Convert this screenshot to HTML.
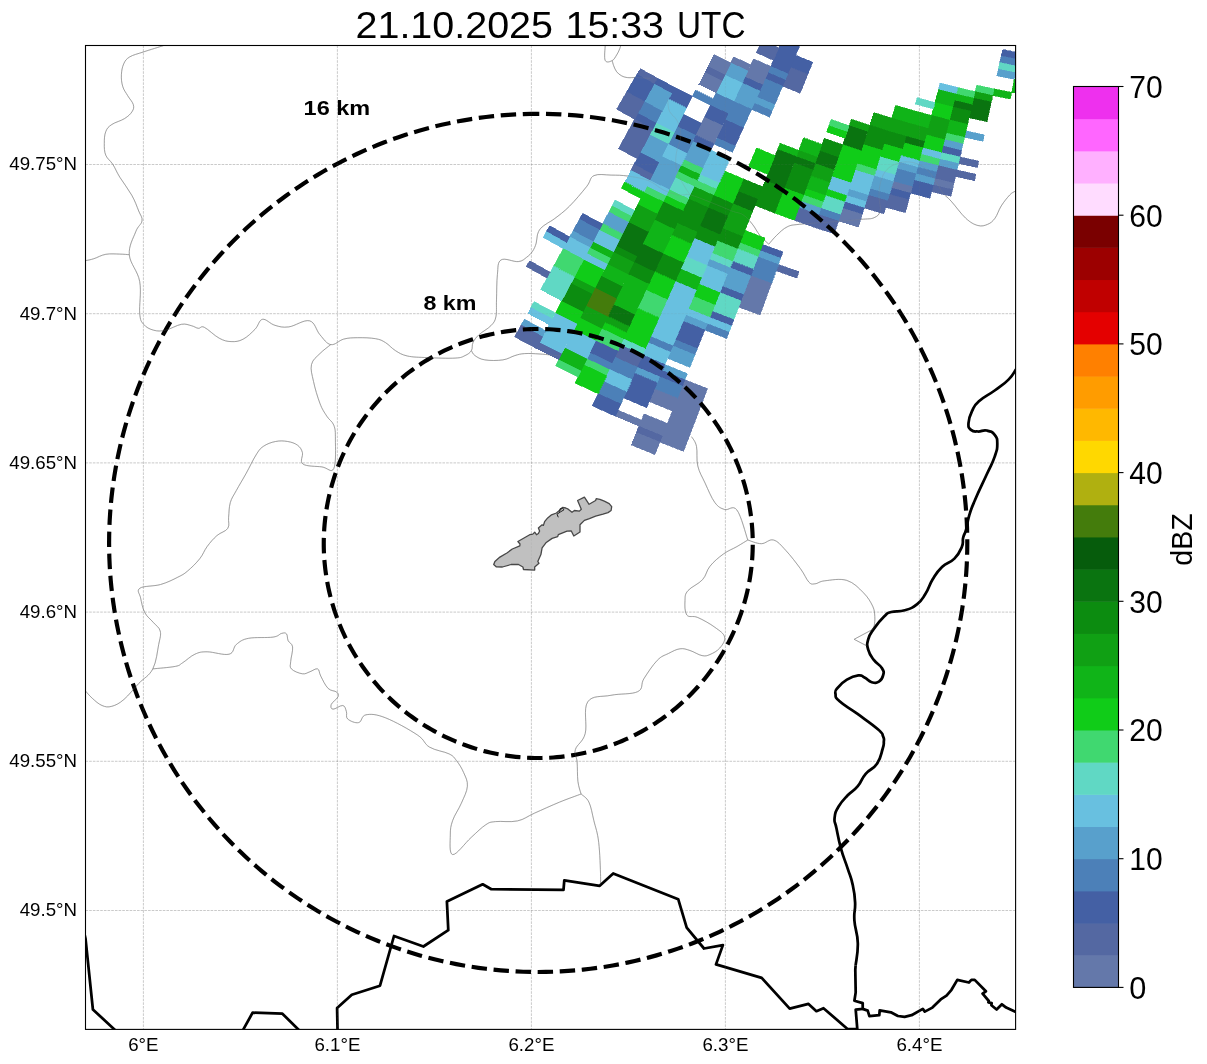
<!DOCTYPE html><html><head><meta charset="utf-8"><title>radar</title><style>
html,body{margin:0;padding:0;background:#fff}body{width:1207px;height:1064px;overflow:hidden;position:relative;font-family:"Liberation Sans",sans-serif}
svg{position:absolute;left:0;top:0;will-change:transform}text{font-family:"Liberation Sans",sans-serif;fill:#000}
</style></head><body>
<svg width="1207" height="1064" viewBox="0 0 1207 1064">
<defs><clipPath id="ax"><rect x="85.5" y="45.5" width="930.1" height="983.9000000000001"/></clipPath></defs>
<g clip-path="url(#ax)">
<g fill="none" stroke="#858585" stroke-opacity="1.0" stroke-width="0.7" stroke-linejoin="round">
<path d="M163.5,45.6 C159.9,46.8 149.8,49.8 143.6,51.9 C137.4,54.0 133.3,54.7 129.7,56.9 C126.1,59.1 125.2,60.6 123.7,63.9 C122.2,67.2 121.6,70.6 121.4,74.8 C121.2,79.0 121.6,82.9 122.8,86.7 C124.0,90.5 125.8,92.4 127.7,95.7 C129.6,99.0 132.5,101.7 133.3,104.6 C134.1,107.5 133.7,109.1 132.1,111.6 C130.5,114.1 128.4,116.1 124.7,118.5 C121.0,120.9 115.3,122.1 111.8,124.5 C108.3,126.9 107.2,128.0 105.8,131.5 C104.4,135.0 104.3,139.0 104.3,143.4 C104.3,147.8 104.2,151.5 105.8,155.3 C107.4,159.1 110.2,160.3 112.8,164.3 C115.4,168.3 116.3,171.6 119.8,177.2 C123.3,182.8 128.2,188.9 131.7,195.1 C135.2,201.3 136.8,206.3 138.7,211.0 C140.6,215.7 142.6,217.1 142.0,220.9 C141.4,224.7 138.0,225.6 135.7,231.8 C133.4,238.0 128.6,245.6 129.3,254.7 C130.0,263.8 137.8,270.8 139.7,281.5 C141.6,292.2 139.0,305.5 139.7,313.3 C140.4,321.1 141.1,321.2 143.6,324.3 C146.1,327.4 149.6,329.1 153.6,330.2 C157.6,331.3 160.4,331.3 165.5,330.2 C170.6,329.1 176.7,325.1 181.4,324.3 C186.1,323.5 188.3,325.0 191.4,325.7 C194.5,326.4 195.9,328.0 198.3,328.3 C200.7,328.6 200.5,325.5 204.3,327.3 C208.1,329.1 214.3,335.6 219.2,338.2 C224.1,340.8 226.7,341.4 231.1,341.6 C235.5,341.8 238.7,341.5 243.1,339.2 C247.5,336.9 251.4,332.9 255.0,329.3 C258.6,325.7 258.9,320.0 262.5,319.3 C266.1,318.6 270.1,323.9 274.9,325.3 C279.7,326.7 282.5,327.7 288.8,326.9 C295.1,326.1 303.8,319.4 309.5,320.8 C315.2,322.2 316.0,330.3 319.9,334.7 C323.8,339.1 326.4,343.8 330.8,344.6 C335.2,345.4 338.8,340.4 343.7,339.1 C348.6,337.8 351.9,337.8 357.7,337.7 C363.5,337.6 370.5,337.8 375.6,338.7 C380.7,339.6 381.9,340.4 385.5,342.6 C389.1,344.8 391.4,348.1 395.4,350.6 C399.4,353.1 401.6,354.7 407.4,356.0 C413.2,357.3 418.6,357.2 427.3,357.6 C436.0,358.0 448.2,358.5 455.1,358.1 C462.0,357.7 462.0,357.0 465.0,355.6 C468.0,354.2 469.9,353.0 471.4,350.6 C472.9,348.2 471.6,345.5 473.0,342.6 C474.4,339.7 475.7,337.8 479.0,334.7 C482.3,331.6 487.8,329.0 490.9,325.7 C494.0,322.4 494.9,321.5 495.9,316.8 C496.9,312.1 496.2,307.6 496.5,299.9 C496.8,292.2 496.6,281.9 497.4,274.6 C498.2,267.3 497.3,262.3 501.1,259.9 C504.9,257.5 513.5,262.1 518.2,261.6 C522.9,261.1 524.0,259.2 526.6,257.3 C529.2,255.4 530.6,254.1 532.4,251.5 C534.2,248.9 535.3,246.2 536.2,243.2 C537.1,240.2 536.6,237.6 537.4,234.9 C538.2,232.2 538.9,230.4 540.7,228.3 C542.5,226.2 544.7,225.1 547.3,223.3 C549.9,221.5 550.7,221.6 554.8,218.5 C558.9,215.4 563.7,212.0 569.5,206.2 C575.3,200.4 582.1,192.2 586.6,186.6 C591.1,181.0 589.5,177.7 594.0,175.6 C598.5,173.5 604.8,175.0 611.1,175.1 C617.4,175.2 621.3,175.1 628.2,176.1 C635.1,177.1 642.4,178.2 648.9,180.8 C655.4,183.4 658.4,187.6 663.9,190.2 C669.4,192.8 674.1,194.0 678.9,194.9 C683.7,195.8 684.3,193.5 690.2,194.9 C696.1,196.3 703.3,199.5 710.9,202.4 C718.5,205.3 725.7,208.6 731.6,210.9 C737.5,213.2 739.1,212.3 742.9,214.7 C746.7,217.1 749.2,220.3 752.3,224.1 C755.4,227.9 756.8,231.6 759.8,235.3 C762.8,239.0 767.1,242.6 768.8,244.2"/>
<path d="M768.8,244.2 C770.2,242.6 773.3,238.5 776.7,235.3 C780.1,232.1 783.1,228.8 787.3,226.8 C791.5,224.8 791.7,225.2 799.5,224.3 C807.3,223.4 818.8,222.9 830.0,222.0 C841.2,221.1 852.5,220.2 860.6,219.4 C868.7,218.6 870.5,219.3 874.1,217.7 C877.7,216.1 879.3,214.7 880.2,210.9 C881.1,207.1 879.0,201.9 879.0,197.0 C879.0,192.1 879.1,188.6 880.2,184.0 C881.3,179.4 882.4,175.4 885.1,171.8 C887.8,168.2 890.3,166.2 894.9,164.4 C899.5,162.6 904.5,161.3 910.0,162.0 C915.5,162.7 920.4,164.7 925.0,168.0 C929.6,171.3 931.8,175.5 935.0,180.0 C938.2,184.5 939.5,188.6 942.5,192.5 C945.5,196.4 946.8,196.4 951.1,201.1 C955.4,205.8 960.8,213.7 965.7,218.2 C970.6,222.7 973.9,224.4 977.9,225.5 C981.9,226.6 984.6,225.6 987.7,224.3 C990.8,223.0 992.5,221.6 995.0,218.2 C997.5,214.8 998.5,210.3 1001.2,206.0 C1003.9,201.7 1007.2,197.7 1009.7,195.0 C1012.2,192.3 1013.2,192.4 1015.1,191.3 C1017.0,190.2 1019.1,189.4 1020.0,189.0"/>
<path d="M129.3,254.7 C127.6,254.6 124.1,254.2 119.8,254.1 C115.5,254.0 110.5,253.5 105.8,254.3 C101.1,255.1 97.6,257.5 93.9,258.7 C90.2,259.9 87.1,260.3 85.6,260.6"/>
<path d="M330.8,344.6 C328.8,346.2 323.4,350.0 319.9,353.6 C316.4,357.2 312.7,359.4 311.5,364.5 C310.3,369.6 312.0,374.3 313.5,381.4 C315.0,388.5 317.5,396.9 319.9,403.3 C322.3,409.7 324.3,412.2 326.8,416.2 C329.3,420.2 332.2,421.0 333.8,425.2 C335.4,429.4 335.4,431.2 335.4,439.1 C335.4,447.0 336.3,463.4 333.8,468.5 C331.3,473.6 327.6,467.7 321.9,466.9 C316.2,466.1 306.5,466.6 302.9,464.0 C299.3,461.4 303.4,455.9 302.4,452.5 C301.4,449.1 300.2,447.2 297.5,445.2 C294.8,443.2 291.7,442.2 287.7,441.5 C283.7,440.8 280.0,440.6 275.5,441.5 C271.0,442.4 266.9,443.9 263.3,446.4 C259.7,448.9 259.1,450.1 256.0,455.0 C252.9,459.9 249.8,466.8 246.2,473.3 C242.6,479.8 239.3,485.0 236.4,490.4 C233.5,495.8 231.7,497.7 230.3,502.6 C228.9,507.5 229.1,512.6 228.6,517.3 C228.1,522.0 229.9,524.9 227.8,528.3 C225.7,531.7 220.7,532.2 216.9,535.6 C213.1,539.0 210.3,542.3 207.1,546.6 C203.9,550.9 203.3,554.3 199.7,558.8 C196.1,563.3 191.5,567.7 187.5,571.1 C183.5,574.5 182.7,574.7 177.8,577.2 C172.9,579.7 167.5,582.5 160.6,584.5 C153.7,586.5 143.6,585.7 139.9,588.2 C136.2,590.7 139.7,593.4 140.6,597.9 C141.5,602.4 142.5,608.1 144.8,612.6 C147.1,617.1 150.5,619.0 153.3,622.4 C156.1,625.8 159.2,627.0 160.2,631.0 C161.2,635.0 160.1,637.5 158.7,644.4 C157.3,651.3 156.5,661.7 152.8,668.9 C149.1,676.1 144.0,677.9 138.7,683.5 C133.4,689.1 128.9,695.2 124.0,699.4 C119.1,703.6 115.8,705.2 111.8,706.3 C107.8,707.4 105.6,707.0 102.0,705.5 C98.4,704.0 95.2,700.9 92.2,698.2 C89.2,695.5 86.6,692.2 85.4,690.9"/>
<path d="M471.4,350.6 C472.1,351.5 472.5,353.9 475.0,355.6 C477.5,357.3 479.8,359.1 484.9,359.9 C490.0,360.7 497.3,360.7 502.8,359.9 C508.3,359.1 510.8,356.8 514.8,355.6 C518.8,354.4 520.1,353.9 524.7,353.6 C529.3,353.3 533.5,353.6 540.0,354.0 C546.5,354.4 556.3,355.6 560.0,356.0"/>
<path d="M605.2,45.5 C605.2,48.2 603.9,57.6 605.2,60.4 C606.5,63.2 610.1,61.6 612.2,60.6 C614.3,59.6 615.4,56.8 616.7,54.9 C618.0,53.0 618.4,51.7 619.2,50.0 C620.0,48.3 620.5,46.3 620.8,45.5"/>
<path d="M612.2,60.6 C612.5,61.6 612.9,63.7 613.7,65.8 C614.5,67.9 615.3,70.0 616.7,71.8 C618.1,73.6 619.6,74.7 621.6,75.8 C623.6,76.9 625.3,77.3 627.6,77.6 C629.9,77.9 629.9,77.5 634.0,77.6 C638.1,77.7 647.1,78.2 650.0,78.3"/>
<path d="M667.7,100.0 C668.0,102.1 667.8,107.5 669.5,111.3 C671.2,115.1 675.0,116.2 677.1,120.7 C679.2,125.2 681.0,129.5 680.8,135.7 C680.6,141.9 676.8,148.0 676.1,154.5 C675.4,161.0 675.5,165.5 677.1,171.4 C678.7,177.3 682.2,182.2 684.6,186.5 C687.0,190.8 689.2,193.4 690.2,194.9"/>
<path d="M152.8,668.9 C156.9,668.4 169.8,667.5 175.3,666.4 C180.8,665.3 179.0,665.0 182.6,662.8 C186.2,660.6 190.4,656.2 194.9,654.2 C199.4,652.2 200.8,651.8 207.1,651.8 C213.4,651.8 223.7,655.6 229.1,654.2 C234.5,652.8 232.8,647.3 236.4,644.4 C240.0,641.5 241.9,639.6 248.6,638.3 C255.3,637.0 267.1,638.0 273.1,637.1 C279.2,636.2 279.1,634.0 281.6,633.4 C284.1,632.8 285.3,632.5 286.5,633.9 C287.7,635.3 287.1,638.4 288.2,640.8 C289.3,643.2 292.1,643.1 292.6,646.9 C293.1,650.7 290.9,657.5 290.7,661.5 C290.5,665.5 289.3,666.6 291.4,668.9 C293.5,671.2 299.0,673.3 302.4,673.8 C305.8,674.3 307.0,672.7 309.8,671.8 C312.6,670.9 315.6,668.1 317.6,668.9 C319.6,669.7 318.9,672.6 320.8,676.2 C322.7,679.8 325.2,685.5 328.1,688.4 C331.0,691.3 334.9,690.5 336.7,692.1 C338.5,693.7 338.9,694.8 337.9,697.0 C336.9,699.2 332.2,702.1 331.3,704.3 C330.4,706.5 330.9,709.0 333.0,709.2 C335.1,709.4 340.3,705.1 342.8,705.5 C345.3,705.9 345.5,709.1 346.4,711.6 C347.3,714.1 345.4,717.0 347.7,719.0 C350.0,721.0 355.3,723.4 358.7,722.6 C362.1,721.8 361.1,715.7 366.0,714.8 C370.9,713.9 376.1,714.1 385.5,717.8 C394.9,721.5 409.2,729.5 417.3,734.9 C425.4,740.3 423.7,743.6 429.5,747.1 C435.3,750.6 444.2,751.4 449.1,753.9 C454.0,756.4 453.7,757.1 456.4,760.5 C459.1,763.9 461.7,768.0 463.7,772.7 C465.7,777.4 467.8,780.6 467.4,786.2 C467.0,791.8 464.0,797.0 461.3,803.3 C458.6,809.6 454.7,814.6 452.7,820.4 C450.7,826.2 450.3,828.7 450.3,835.0 C450.3,841.3 448.9,854.1 452.7,854.6 C456.5,855.1 465.1,843.0 471.1,837.5 C477.2,832.0 481.2,827.7 485.7,824.8 C490.2,821.9 489.7,822.3 495.5,821.6 C501.3,820.9 510.3,822.5 517.5,820.9 C524.7,819.3 526.9,816.5 534.6,813.1 C542.3,809.7 551.1,805.6 559.6,802.1 C568.1,798.6 577.2,795.5 581.1,794.0"/>
<path d="M581.1,794.0 C580.5,791.7 578.6,787.2 577.9,781.3 C577.2,775.4 577.6,767.5 577.1,761.7 C576.6,755.9 573.9,754.7 575.4,749.5 C576.9,744.3 582.9,742.3 585.2,733.6 C587.5,724.9 583.0,708.9 587.7,701.9 C592.4,694.9 601.7,697.2 610.9,695.3 C620.1,693.4 631.8,694.6 637.8,691.6 C643.8,688.6 640.3,684.4 643.9,678.7 C647.5,673.0 652.8,664.9 657.3,660.3 C661.8,655.7 664.2,655.6 668.4,653.5 C672.6,651.4 676.0,649.3 680.0,648.8 C684.0,648.2 686.0,649.3 690.0,650.5 C694.0,651.7 698.3,654.9 702.0,655.6 C705.7,656.3 706.7,655.9 710.0,654.5 C713.3,653.1 717.1,651.2 719.8,648.0 C722.5,644.8 725.5,640.8 724.6,637.0 C723.7,633.2 719.8,630.9 714.9,627.3 C710.0,623.7 703.0,619.8 697.8,617.5 C692.6,615.2 689.1,618.1 686.8,615.0 C684.5,611.9 684.8,604.9 685.0,600.4 C685.2,595.9 684.8,594.4 688.0,590.6 C691.2,586.8 698.6,584.1 702.6,579.6 C706.6,575.1 706.2,570.9 710.0,566.2 C713.8,561.5 718.5,557.6 723.4,554.0 C728.3,550.4 732.4,549.2 736.9,546.6 C741.4,544.0 745.8,541.2 747.8,540.0"/>
<path d="M581.1,794.0 C582.5,795.5 586.6,797.3 588.9,802.1 C591.2,806.9 592.0,813.0 593.8,820.4 C595.6,827.8 597.5,832.1 598.7,842.4 C599.9,852.7 600.4,868.8 600.6,876.6 C600.8,884.4 600.1,883.5 600.0,885.0"/>
<path d="M691.6,436.7 C692.5,438.5 695.4,441.0 696.5,446.4 C697.6,451.8 696.2,459.3 697.8,466.0 C699.4,472.7 702.0,476.4 705.1,483.1 C708.2,489.8 711.3,497.8 714.9,502.6 C718.5,507.4 720.6,508.1 724.6,509.5 C728.6,510.9 732.6,504.4 736.9,510.0 C741.2,515.6 745.8,534.5 747.8,540.0"/>
<path d="M747.8,540.0 C750.3,540.7 756.6,543.7 761.3,543.7 C766.0,543.7 769.0,538.8 773.5,540.0 C778.0,541.2 780.8,545.1 785.7,550.3 C790.6,555.5 796.1,562.8 800.4,568.6 C804.7,574.4 806.2,579.3 808.9,582.1 C811.6,584.9 812.2,584.0 815.1,583.8 C818.0,583.6 819.0,581.4 824.8,580.8 C830.6,580.2 839.7,578.2 846.8,580.4 C853.9,582.6 858.7,588.0 863.4,592.7 C868.1,597.4 870.6,601.8 872.7,606.2 C874.8,610.6 874.5,612.9 874.8,616.5 C875.1,620.1 874.6,623.4 874.2,625.8 C873.8,628.2 872.8,628.8 872.5,629.5"/>
<polyline points="872.5,629.5 854.1,639.3 867.0,646.0"/>
</g>
<g stroke="#808080" stroke-opacity="0.5" stroke-width="0.69" stroke-dasharray="2.57 1.11" fill="none">
<line x1="143.4" y1="45.5" x2="143.4" y2="1029.4"/>
<line x1="337.3999999999993" y1="45.5" x2="337.3999999999993" y2="1029.4"/>
<line x1="531.4000000000003" y1="45.5" x2="531.4000000000003" y2="1029.4"/>
<line x1="725.3999999999996" y1="45.5" x2="725.3999999999996" y2="1029.4"/>
<line x1="919.4000000000007" y1="45.5" x2="919.4000000000007" y2="1029.4"/>
<line x1="85.5" y1="910.5" x2="1015.6" y2="910.5"/>
<line x1="85.5" y1="761.3" x2="1015.6" y2="761.3"/>
<line x1="85.5" y1="612.1" x2="1015.6" y2="612.1"/>
<line x1="85.5" y1="462.9" x2="1015.6" y2="462.9"/>
<line x1="85.5" y1="313.7" x2="1015.6" y2="313.7"/>
<line x1="85.5" y1="164.5" x2="1015.6" y2="164.5"/>
</g>
<g shape-rendering="crispEdges"><polygon points="1031.6,82.4 1014.2,79.3 1011.7,92.4 1029.3,95.6" fill="#10b418" stroke="#10b418" stroke-width="0.6"/>
<polygon points="1019.3,52.9 1002.5,49.5 1001.1,56.1 1018.1,59.5" fill="#4460a4" stroke="#4460a4" stroke-width="0.6"/>
<polygon points="1018.1,59.5 1001.1,56.1 999.7,62.6 1016.8,66.1" fill="#4c80b8" stroke="#4c80b8" stroke-width="0.6"/>
<polygon points="1016.8,66.1 999.7,62.6 998.3,69.2 1015.5,72.7" fill="#60d8c4" stroke="#60d8c4" stroke-width="0.6"/>
<polygon points="1015.5,72.7 998.3,69.2 996.9,75.8 1014.2,79.3" fill="#58a0cc" stroke="#58a0cc" stroke-width="0.6"/>
<polygon points="1011.7,92.4 994.1,88.9 992.7,95.5 1010.4,99.0" fill="#10b418" stroke="#10b418" stroke-width="0.6"/>
<polygon points="994.1,88.9 976.6,85.1 975.1,91.6 992.7,95.5" fill="#40d870" stroke="#40d870" stroke-width="0.6"/>
<polygon points="992.7,95.5 975.1,91.6 973.6,98.2 991.3,102.0" fill="#10a014" stroke="#10a014" stroke-width="0.6"/>
<polygon points="991.3,102.0 973.6,98.2 969.1,117.8 987.1,121.7" fill="#0a7410" stroke="#0a7410" stroke-width="0.6"/>
<polygon points="984.3,134.9 966.0,130.9 964.5,137.4 982.9,141.4" fill="#58a0cc" stroke="#58a0cc" stroke-width="0.6"/>
<polygon points="978.8,161.1 960.0,157.0 958.5,163.6 977.4,167.7" fill="#5468a2" stroke="#5468a2" stroke-width="0.6"/>
<polygon points="976.0,174.2 957.0,170.1 955.5,176.6 974.6,180.8" fill="#5468a2" stroke="#5468a2" stroke-width="0.6"/>
<polygon points="975.1,91.6 957.6,87.5 955.9,94.0 973.6,98.2" fill="#40d870" stroke="#40d870" stroke-width="0.6"/>
<polygon points="973.6,98.2 955.9,94.0 954.3,100.5 972.1,104.7" fill="#10b418" stroke="#10b418" stroke-width="0.6"/>
<polygon points="972.1,104.7 954.3,100.5 952.7,107.0 970.6,111.2" fill="#0a7410" stroke="#0a7410" stroke-width="0.6"/>
<polygon points="970.6,111.2 952.7,107.0 949.4,120.0 967.6,124.3" fill="#0c8c10" stroke="#0c8c10" stroke-width="0.6"/>
<polygon points="967.6,124.3 949.4,120.0 946.2,133.1 964.5,137.4" fill="#10b418" stroke="#10b418" stroke-width="0.6"/>
<polygon points="964.5,137.4 946.2,133.1 944.6,139.6 963.0,143.9" fill="#40d870" stroke="#40d870" stroke-width="0.6"/>
<polygon points="963.0,143.9 944.6,139.6 943.0,146.1 961.5,150.5" fill="#58a0cc" stroke="#58a0cc" stroke-width="0.6"/>
<polygon points="961.5,150.5 943.0,146.1 941.3,152.6 960.0,157.0" fill="#4460a4" stroke="#4460a4" stroke-width="0.6"/>
<polygon points="960.0,157.0 941.3,152.6 939.7,159.1 958.5,163.6" fill="#60d8c4" stroke="#60d8c4" stroke-width="0.6"/>
<polygon points="958.5,163.6 939.7,159.1 938.1,165.6 957.0,170.1" fill="#58a0cc" stroke="#58a0cc" stroke-width="0.6"/>
<polygon points="957.0,170.1 938.1,165.6 934.8,178.6 954.0,183.2" fill="#5468a2" stroke="#5468a2" stroke-width="0.6"/>
<polygon points="954.0,183.2 934.8,178.6 933.2,185.2 952.5,189.7" fill="#6478aa" stroke="#6478aa" stroke-width="0.6"/>
<polygon points="952.5,189.7 933.2,185.2 931.6,191.7 951.0,196.3" fill="#5468a2" stroke="#5468a2" stroke-width="0.6"/>
<polygon points="957.6,87.5 940.1,83.0 938.3,89.5 955.9,94.0" fill="#68c0e0" stroke="#68c0e0" stroke-width="0.6"/>
<polygon points="955.9,94.0 938.3,89.5 934.9,102.5 952.7,107.0" fill="#10b418" stroke="#10b418" stroke-width="0.6"/>
<polygon points="952.7,107.0 934.9,102.5 931.4,115.4 949.4,120.0" fill="#10cc18" stroke="#10cc18" stroke-width="0.6"/>
<polygon points="949.4,120.0 931.4,115.4 926.2,134.9 944.6,139.6" fill="#10a014" stroke="#10a014" stroke-width="0.6"/>
<polygon points="944.6,139.6 926.2,134.9 922.7,147.8 941.3,152.6" fill="#10cc18" stroke="#10cc18" stroke-width="0.6"/>
<polygon points="941.3,152.6 922.7,147.8 921.0,154.3 939.7,159.1" fill="#68c0e0" stroke="#68c0e0" stroke-width="0.6"/>
<polygon points="939.7,159.1 921.0,154.3 919.3,160.8 938.1,165.6" fill="#40d870" stroke="#40d870" stroke-width="0.6"/>
<polygon points="938.1,165.6 919.3,160.8 917.5,167.3 936.5,172.1" fill="#58a0cc" stroke="#58a0cc" stroke-width="0.6"/>
<polygon points="936.5,172.1 917.5,167.3 915.8,173.8 934.8,178.6" fill="#4c80b8" stroke="#4c80b8" stroke-width="0.6"/>
<polygon points="934.8,178.6 915.8,173.8 914.1,180.3 933.2,185.2" fill="#58a0cc" stroke="#58a0cc" stroke-width="0.6"/>
<polygon points="933.2,185.2 914.1,180.3 910.6,193.2 930.0,198.2" fill="#4460a4" stroke="#4460a4" stroke-width="0.6"/>
<polygon points="934.9,102.5 917.1,97.6 915.3,104.1 933.1,108.9" fill="#60d8c4" stroke="#60d8c4" stroke-width="0.6"/>
<polygon points="931.4,115.4 913.4,110.5 909.8,123.4 927.9,128.4" fill="#10b418" stroke="#10b418" stroke-width="0.6"/>
<polygon points="927.9,128.4 909.8,123.4 906.1,136.3 924.5,141.4" fill="#10a014" stroke="#10a014" stroke-width="0.6"/>
<polygon points="924.5,141.4 906.1,136.3 904.2,142.8 922.7,147.8" fill="#0a7410" stroke="#0a7410" stroke-width="0.6"/>
<polygon points="922.7,147.8 904.2,142.8 900.5,155.7 919.3,160.8" fill="#10cc18" stroke="#10cc18" stroke-width="0.6"/>
<polygon points="919.3,160.8 900.5,155.7 898.7,162.1 917.5,167.3" fill="#68c0e0" stroke="#68c0e0" stroke-width="0.6"/>
<polygon points="917.5,167.3 898.7,162.1 896.8,168.6 915.8,173.8" fill="#58a0cc" stroke="#58a0cc" stroke-width="0.6"/>
<polygon points="915.8,173.8 896.8,168.6 893.1,181.5 912.3,186.7" fill="#4c80b8" stroke="#4c80b8" stroke-width="0.6"/>
<polygon points="912.3,186.7 893.1,181.5 891.3,188.0 910.6,193.2" fill="#6478aa" stroke="#6478aa" stroke-width="0.6"/>
<polygon points="910.6,193.2 891.3,188.0 889.4,194.4 908.9,199.7" fill="#4460a4" stroke="#4460a4" stroke-width="0.6"/>
<polygon points="908.9,199.7 889.4,194.4 885.7,207.3 905.4,212.7" fill="#5468a2" stroke="#5468a2" stroke-width="0.6"/>
<polygon points="913.4,110.5 895.6,105.3 891.7,118.1 909.8,123.4" fill="#10b418" stroke="#10b418" stroke-width="0.6"/>
<polygon points="909.8,123.4 891.7,118.1 887.7,131.0 906.1,136.3" fill="#10a014" stroke="#10a014" stroke-width="0.6"/>
<polygon points="906.1,136.3 887.7,131.0 883.8,143.8 902.4,149.2" fill="#0c8c10" stroke="#0c8c10" stroke-width="0.6"/>
<polygon points="902.4,149.2 883.8,143.8 879.9,156.7 898.7,162.1" fill="#10cc18" stroke="#10cc18" stroke-width="0.6"/>
<polygon points="898.7,162.1 879.9,156.7 876.0,169.5 895.0,175.0" fill="#60d8c4" stroke="#60d8c4" stroke-width="0.6"/>
<polygon points="895.0,175.0 876.0,169.5 874.0,175.9 893.1,181.5" fill="#68c0e0" stroke="#68c0e0" stroke-width="0.6"/>
<polygon points="893.1,181.5 874.0,175.9 870.1,188.8 889.4,194.4" fill="#58a0cc" stroke="#58a0cc" stroke-width="0.6"/>
<polygon points="889.4,194.4 870.1,188.8 868.1,195.2 887.6,200.9" fill="#4c80b8" stroke="#4c80b8" stroke-width="0.6"/>
<polygon points="887.6,200.9 868.1,195.2 864.2,208.0 883.9,213.8" fill="#5468a2" stroke="#5468a2" stroke-width="0.6"/>
<polygon points="891.7,118.1 873.7,112.5 869.5,125.3 887.7,131.0" fill="#10a014" stroke="#10a014" stroke-width="0.6"/>
<polygon points="887.7,131.0 869.5,125.3 863.3,144.5 881.9,150.2" fill="#0c8c10" stroke="#0c8c10" stroke-width="0.6"/>
<polygon points="881.9,150.2 863.3,144.5 857.1,163.6 876.0,169.5" fill="#10cc18" stroke="#10cc18" stroke-width="0.6"/>
<polygon points="876.0,169.5 857.1,163.6 855.0,170.0 874.0,175.9" fill="#40d870" stroke="#40d870" stroke-width="0.6"/>
<polygon points="874.0,175.9 855.0,170.0 848.8,189.2 868.1,195.2" fill="#68c0e0" stroke="#68c0e0" stroke-width="0.6"/>
<polygon points="868.1,195.2 848.8,189.2 846.7,195.6 866.2,201.6" fill="#58a0cc" stroke="#58a0cc" stroke-width="0.6"/>
<polygon points="866.2,201.6 846.7,195.6 844.7,201.9 864.2,208.0" fill="#68c0e0" stroke="#68c0e0" stroke-width="0.6"/>
<polygon points="864.2,208.0 844.7,201.9 842.6,208.3 862.3,214.4" fill="#4460a4" stroke="#4460a4" stroke-width="0.6"/>
<polygon points="862.3,214.4 842.6,208.3 838.5,221.1 858.4,227.3" fill="#6478aa" stroke="#6478aa" stroke-width="0.6"/>
<polygon points="869.5,125.3 851.4,119.3 849.2,125.7 867.4,131.7" fill="#10a014" stroke="#10a014" stroke-width="0.6"/>
<polygon points="867.4,131.7 849.2,125.7 842.7,144.7 861.2,150.9" fill="#0a7410" stroke="#0a7410" stroke-width="0.6"/>
<polygon points="861.2,150.9 842.7,144.7 831.8,176.5 850.9,182.8" fill="#10cc18" stroke="#10cc18" stroke-width="0.6"/>
<polygon points="850.9,182.8 831.8,176.5 827.4,189.2 846.7,195.6" fill="#68c0e0" stroke="#68c0e0" stroke-width="0.6"/>
<polygon points="846.7,195.6 827.4,189.2 825.2,195.5 844.7,201.9" fill="#10cc18" stroke="#10cc18" stroke-width="0.6"/>
<polygon points="844.7,201.9 825.2,195.5 820.9,208.2 840.5,214.7" fill="#60d8c4" stroke="#60d8c4" stroke-width="0.6"/>
<polygon points="840.5,214.7 820.9,208.2 818.7,214.6 838.5,221.1" fill="#4c80b8" stroke="#4c80b8" stroke-width="0.6"/>
<polygon points="838.5,221.1 818.7,214.6 814.3,227.3 834.3,233.9" fill="#5468a2" stroke="#5468a2" stroke-width="0.6"/>
<polygon points="849.2,125.7 831.1,119.4 828.8,125.7 847.0,132.0" fill="#40d870" stroke="#40d870" stroke-width="0.6"/>
<polygon points="847.0,132.0 828.8,125.7 826.5,132.0 844.9,138.4" fill="#10cc18" stroke="#10cc18" stroke-width="0.6"/>
<polygon points="842.7,144.7 824.2,138.3 819.6,150.9 838.3,157.4" fill="#0c8c10" stroke="#0c8c10" stroke-width="0.6"/>
<polygon points="838.3,157.4 819.6,150.9 815.0,163.5 833.9,170.1" fill="#0a7410" stroke="#0a7410" stroke-width="0.6"/>
<polygon points="833.9,170.1 815.0,163.5 810.5,176.2 829.6,182.8" fill="#10a014" stroke="#10a014" stroke-width="0.6"/>
<polygon points="829.6,182.8 810.5,176.2 805.9,188.8 825.2,195.5" fill="#10b418" stroke="#10b418" stroke-width="0.6"/>
<polygon points="825.2,195.5 805.9,188.8 803.6,195.1 823.0,201.9" fill="#10cc18" stroke="#10cc18" stroke-width="0.6"/>
<polygon points="823.0,201.9 803.6,195.1 801.3,201.4 820.9,208.2" fill="#40d870" stroke="#40d870" stroke-width="0.6"/>
<polygon points="820.9,208.2 801.3,201.4 799.0,207.7 818.7,214.6" fill="#58a0cc" stroke="#58a0cc" stroke-width="0.6"/>
<polygon points="818.7,214.6 799.0,207.7 794.4,220.3 814.3,227.3" fill="#5468a2" stroke="#5468a2" stroke-width="0.6"/>
<polygon points="799.1,271.7 778.4,264.5 776.1,270.8 796.9,278.1" fill="#5468a2" stroke="#5468a2" stroke-width="0.6"/>
<polygon points="821.9,144.6 803.5,137.8 798.7,150.4 817.3,157.2" fill="#10b418" stroke="#10b418" stroke-width="0.6"/>
<polygon points="817.3,157.2 798.7,150.4 796.3,156.6 815.0,163.5" fill="#10a014" stroke="#10a014" stroke-width="0.6"/>
<polygon points="815.0,163.5 796.3,156.6 793.9,162.9 812.8,169.9" fill="#0a7410" stroke="#0a7410" stroke-width="0.6"/>
<polygon points="812.8,169.9 793.9,162.9 784.3,188.0 803.6,195.1" fill="#0c8c10" stroke="#0c8c10" stroke-width="0.6"/>
<polygon points="803.6,195.1 784.3,188.0 774.7,213.1 794.4,220.3" fill="#10cc18" stroke="#10cc18" stroke-width="0.6"/>
<polygon points="783.0,251.9 762.7,244.4 760.3,250.7 780.7,258.2" fill="#4460a4" stroke="#4460a4" stroke-width="0.6"/>
<polygon points="780.7,258.2 760.3,250.7 757.9,256.9 778.4,264.5" fill="#58a0cc" stroke="#58a0cc" stroke-width="0.6"/>
<polygon points="778.4,264.5 757.9,256.9 750.7,275.8 771.5,283.4" fill="#4c80b8" stroke="#4c80b8" stroke-width="0.6"/>
<polygon points="771.5,283.4 750.7,275.8 738.7,307.1 760.1,315.0" fill="#6478aa" stroke="#6478aa" stroke-width="0.6"/>
<polygon points="798.7,150.4 780.1,143.2 777.6,149.4 796.3,156.6" fill="#10b418" stroke="#10b418" stroke-width="0.6"/>
<polygon points="796.3,156.6 777.6,149.4 765.1,180.5 784.3,188.0" fill="#0a7410" stroke="#0a7410" stroke-width="0.6"/>
<polygon points="784.3,188.0 765.1,180.5 755.0,205.4 774.7,213.1" fill="#0c8c10" stroke="#0c8c10" stroke-width="0.6"/>
<polygon points="765.1,238.1 745.0,230.3 740.0,242.8 760.3,250.7" fill="#10cc18" stroke="#10cc18" stroke-width="0.6"/>
<polygon points="760.3,250.7 740.0,242.8 737.5,249.0 757.9,256.9" fill="#40d870" stroke="#40d870" stroke-width="0.6"/>
<polygon points="757.9,256.9 737.5,249.0 732.5,261.5 753.1,269.5" fill="#60d8c4" stroke="#60d8c4" stroke-width="0.6"/>
<polygon points="753.1,269.5 732.5,261.5 729.9,267.7 750.7,275.8" fill="#4460a4" stroke="#4460a4" stroke-width="0.6"/>
<polygon points="750.7,275.8 729.9,267.7 722.4,286.4 743.5,294.6" fill="#58a0cc" stroke="#58a0cc" stroke-width="0.6"/>
<polygon points="743.5,294.6 722.4,286.4 719.9,292.6 741.1,300.8" fill="#4460a4" stroke="#4460a4" stroke-width="0.6"/>
<polygon points="741.1,300.8 719.9,292.6 712.4,311.3 733.9,319.7" fill="#60d8c4" stroke="#60d8c4" stroke-width="0.6"/>
<polygon points="733.9,319.7 712.4,311.3 709.9,317.5 731.5,325.9" fill="#4460a4" stroke="#4460a4" stroke-width="0.6"/>
<polygon points="731.5,325.9 709.9,317.5 707.4,323.8 729.1,332.2" fill="#68c0e0" stroke="#68c0e0" stroke-width="0.6"/>
<polygon points="729.1,332.2 707.4,323.8 704.9,330.0 726.7,338.5" fill="#4c80b8" stroke="#4c80b8" stroke-width="0.6"/>
<polygon points="707.6,388.6 684.9,379.8 659.9,442.1 683.6,451.4" fill="#6478aa" stroke="#6478aa" stroke-width="0.6"/>
<polygon points="812.8,62.2 795.8,55.3 790.5,67.6 807.7,74.6" fill="#4460a4" stroke="#4460a4" stroke-width="0.6"/>
<polygon points="807.7,74.6 790.5,67.6 782.7,86.2 800.2,93.3" fill="#5468a2" stroke="#5468a2" stroke-width="0.6"/>
<polygon points="775.1,155.6 756.5,148.0 748.6,166.6 767.6,174.3" fill="#10cc18" stroke="#10cc18" stroke-width="0.6"/>
<polygon points="762.5,186.7 743.4,178.9 738.1,191.3 757.5,199.2" fill="#0c8c10" stroke="#0c8c10" stroke-width="0.6"/>
<polygon points="757.5,199.2 738.1,191.3 732.9,203.7 752.5,211.7" fill="#0a7410" stroke="#0a7410" stroke-width="0.6"/>
<polygon points="752.5,211.7 732.9,203.7 722.4,228.4 742.5,236.6" fill="#10a014" stroke="#10a014" stroke-width="0.6"/>
<polygon points="742.5,236.6 722.4,228.4 717.2,240.8 737.5,249.0" fill="#0c8c10" stroke="#0c8c10" stroke-width="0.6"/>
<polygon points="737.5,249.0 717.2,240.8 712.0,253.1 732.5,261.5" fill="#40d870" stroke="#40d870" stroke-width="0.6"/>
<polygon points="732.5,261.5 712.0,253.1 709.4,259.3 729.9,267.7" fill="#60d8c4" stroke="#60d8c4" stroke-width="0.6"/>
<polygon points="729.9,267.7 709.4,259.3 706.7,265.5 727.4,273.9" fill="#58a0cc" stroke="#58a0cc" stroke-width="0.6"/>
<polygon points="727.4,273.9 706.7,265.5 698.9,284.1 719.9,292.6" fill="#68c0e0" stroke="#68c0e0" stroke-width="0.6"/>
<polygon points="719.9,292.6 698.9,284.1 693.7,296.4 714.9,305.1" fill="#10cc18" stroke="#10cc18" stroke-width="0.6"/>
<polygon points="714.9,305.1 693.7,296.4 688.4,308.8 709.9,317.5" fill="#40d870" stroke="#40d870" stroke-width="0.6"/>
<polygon points="709.9,317.5 688.4,308.8 685.8,315.0 707.4,323.8" fill="#68c0e0" stroke="#68c0e0" stroke-width="0.6"/>
<polygon points="707.4,323.8 685.8,315.0 683.2,321.2 704.9,330.0" fill="#58a0cc" stroke="#58a0cc" stroke-width="0.6"/>
<polygon points="704.9,330.0 683.2,321.2 675.4,339.7 697.4,348.7" fill="#4460a4" stroke="#4460a4" stroke-width="0.6"/>
<polygon points="697.4,348.7 675.4,339.7 672.8,345.9 694.9,354.9" fill="#4c80b8" stroke="#4c80b8" stroke-width="0.6"/>
<polygon points="694.9,354.9 672.8,345.9 667.6,358.3 689.9,367.4" fill="#58a0cc" stroke="#58a0cc" stroke-width="0.6"/>
<polygon points="687.4,373.6 664.9,364.5 662.3,370.6 684.9,379.8" fill="#58a0cc" stroke="#58a0cc" stroke-width="0.6"/>
<polygon points="684.9,379.8 662.3,370.6 659.7,376.8 682.4,386.1" fill="#4460a4" stroke="#4460a4" stroke-width="0.6"/>
<polygon points="682.4,386.1 659.7,376.8 654.5,389.2 677.4,398.5" fill="#4c80b8" stroke="#4c80b8" stroke-width="0.6"/>
<polygon points="677.4,398.5 654.5,389.2 649.3,401.6 672.4,411.0" fill="#6478aa" stroke="#6478aa" stroke-width="0.6"/>
<polygon points="667.4,423.4 644.1,413.9 638.8,426.3 662.4,435.9" fill="#6478aa" stroke="#6478aa" stroke-width="0.6"/>
<polygon points="662.4,435.9 638.8,426.3 636.2,432.5 659.9,442.1" fill="#5468a2" stroke="#5468a2" stroke-width="0.6"/>
<polygon points="659.9,442.1 636.2,432.5 631.0,444.9 654.9,454.6" fill="#6478aa" stroke="#6478aa" stroke-width="0.6"/>
<polygon points="801.0,42.9 784.3,35.7 770.7,66.4 787.9,73.8" fill="#4460a4" stroke="#4460a4" stroke-width="0.6"/>
<polygon points="787.9,73.8 770.7,66.4 768.0,72.6 785.3,80.0" fill="#4c80b8" stroke="#4c80b8" stroke-width="0.6"/>
<polygon points="785.3,80.0 768.0,72.6 765.2,78.7 782.7,86.2" fill="#4460a4" stroke="#4460a4" stroke-width="0.6"/>
<polygon points="782.7,86.2 765.2,78.7 757.0,97.1 774.8,104.7" fill="#4c80b8" stroke="#4c80b8" stroke-width="0.6"/>
<polygon points="774.8,104.7 757.0,97.1 754.3,103.2 772.2,110.9" fill="#58a0cc" stroke="#58a0cc" stroke-width="0.6"/>
<polygon points="772.2,110.9 754.3,103.2 751.6,109.4 769.6,117.1" fill="#4c80b8" stroke="#4c80b8" stroke-width="0.6"/>
<polygon points="743.4,178.9 724.3,170.8 713.4,195.3 732.9,203.7" fill="#10cc18" stroke="#10cc18" stroke-width="0.6"/>
<polygon points="732.9,203.7 713.4,195.3 708.0,207.6 727.7,216.0" fill="#0c8c10" stroke="#0c8c10" stroke-width="0.6"/>
<polygon points="727.7,216.0 708.0,207.6 699.8,226.0 719.8,234.6" fill="#0a7410" stroke="#0a7410" stroke-width="0.6"/>
<polygon points="719.8,234.6 699.8,226.0 694.4,238.3 714.6,246.9" fill="#0c8c10" stroke="#0c8c10" stroke-width="0.6"/>
<polygon points="714.6,246.9 694.4,238.3 686.2,256.7 706.7,265.5" fill="#68c0e0" stroke="#68c0e0" stroke-width="0.6"/>
<polygon points="706.7,265.5 686.2,256.7 680.8,269.0 701.5,277.9" fill="#60d8c4" stroke="#60d8c4" stroke-width="0.6"/>
<polygon points="701.5,277.9 680.8,269.0 675.3,281.3 696.3,290.2" fill="#10b418" stroke="#10b418" stroke-width="0.6"/>
<polygon points="696.3,290.2 675.3,281.3 650.8,336.5 672.8,345.9" fill="#68c0e0" stroke="#68c0e0" stroke-width="0.6"/>
<polygon points="672.8,345.9 650.8,336.5 648.1,342.6 670.2,352.1" fill="#4c80b8" stroke="#4c80b8" stroke-width="0.6"/>
<polygon points="670.2,352.1 648.1,342.6 642.7,354.9 664.9,364.5" fill="#68c0e0" stroke="#68c0e0" stroke-width="0.6"/>
<polygon points="664.9,364.5 642.7,354.9 637.2,367.2 659.7,376.8" fill="#4460a4" stroke="#4460a4" stroke-width="0.6"/>
<polygon points="659.7,376.8 637.2,367.2 634.5,373.3 657.1,383.0" fill="#58a0cc" stroke="#58a0cc" stroke-width="0.6"/>
<polygon points="657.1,383.0 634.5,373.3 623.7,397.9 646.7,407.8" fill="#4460a4" stroke="#4460a4" stroke-width="0.6"/>
<polygon points="641.5,420.1 618.2,410.2 615.5,416.3 638.8,426.3" fill="#6478aa" stroke="#6478aa" stroke-width="0.6"/>
<polygon points="778.9,48.0 762.1,40.5 756.4,52.7 773.4,60.3" fill="#5468a2" stroke="#5468a2" stroke-width="0.6"/>
<polygon points="770.7,66.4 753.6,58.8 745.1,77.0 762.5,84.8" fill="#6478aa" stroke="#6478aa" stroke-width="0.6"/>
<polygon points="762.5,84.8 745.1,77.0 742.3,83.1 759.8,91.0" fill="#4460a4" stroke="#4460a4" stroke-width="0.6"/>
<polygon points="759.8,91.0 742.3,83.1 733.8,101.4 751.6,109.4" fill="#58a0cc" stroke="#58a0cc" stroke-width="0.6"/>
<polygon points="751.6,109.4 733.8,101.4 725.3,119.7 743.4,127.8" fill="#4c80b8" stroke="#4c80b8" stroke-width="0.6"/>
<polygon points="743.4,127.8 725.3,119.7 716.8,137.9 735.2,146.2" fill="#4460a4" stroke="#4460a4" stroke-width="0.6"/>
<polygon points="735.2,146.2 716.8,137.9 713.9,144.0 732.5,152.4" fill="#4c80b8" stroke="#4c80b8" stroke-width="0.6"/>
<polygon points="729.8,158.5 711.1,150.1 699.8,174.5 718.9,183.0" fill="#68c0e0" stroke="#68c0e0" stroke-width="0.6"/>
<polygon points="718.9,183.0 699.8,174.5 696.9,180.6 716.2,189.2" fill="#60d8c4" stroke="#60d8c4" stroke-width="0.6"/>
<polygon points="716.2,189.2 696.9,180.6 694.1,186.6 713.4,195.3" fill="#40d870" stroke="#40d870" stroke-width="0.6"/>
<polygon points="713.4,195.3 694.1,186.6 688.4,198.8 708.0,207.6" fill="#10a014" stroke="#10a014" stroke-width="0.6"/>
<polygon points="708.0,207.6 688.4,198.8 677.1,223.2 697.1,232.1" fill="#0c8c10" stroke="#0c8c10" stroke-width="0.6"/>
<polygon points="697.1,232.1 677.1,223.2 671.5,235.4 691.6,244.4" fill="#10a014" stroke="#10a014" stroke-width="0.6"/>
<polygon points="691.6,244.4 671.5,235.4 663.0,253.6 683.5,262.8" fill="#10cc18" stroke="#10cc18" stroke-width="0.6"/>
<polygon points="683.5,262.8 663.0,253.6 654.5,271.9 675.3,281.3" fill="#0c8c10" stroke="#0c8c10" stroke-width="0.6"/>
<polygon points="675.3,281.3 654.5,271.9 646.0,290.2 667.2,299.7" fill="#10cc18" stroke="#10cc18" stroke-width="0.6"/>
<polygon points="667.2,299.7 646.0,290.2 637.5,308.5 659.0,318.1" fill="#40d870" stroke="#40d870" stroke-width="0.6"/>
<polygon points="659.0,318.1 637.5,308.5 623.4,338.9 645.4,348.8" fill="#10cc18" stroke="#10cc18" stroke-width="0.6"/>
<polygon points="645.4,348.8 623.4,338.9 620.6,345.0 642.7,354.9" fill="#60d8c4" stroke="#60d8c4" stroke-width="0.6"/>
<polygon points="642.7,354.9 620.6,345.0 614.9,357.2 637.2,367.2" fill="#5468a2" stroke="#5468a2" stroke-width="0.6"/>
<polygon points="637.2,367.2 614.9,357.2 609.3,369.4 631.8,379.5" fill="#4c80b8" stroke="#4c80b8" stroke-width="0.6"/>
<polygon points="631.8,379.5 609.3,369.4 603.6,381.6 626.4,391.8" fill="#68c0e0" stroke="#68c0e0" stroke-width="0.6"/>
<polygon points="626.4,391.8 603.6,381.6 598.0,393.7 620.9,404.0" fill="#4c80b8" stroke="#4c80b8" stroke-width="0.6"/>
<polygon points="620.9,404.0 598.0,393.7 592.3,405.9 615.5,416.3" fill="#4460a4" stroke="#4460a4" stroke-width="0.6"/>
<polygon points="750.8,64.8 733.7,56.8 730.8,62.9 747.9,70.9" fill="#6478aa" stroke="#6478aa" stroke-width="0.6"/>
<polygon points="747.9,70.9 730.8,62.9 724.9,75.0 742.3,83.1" fill="#58a0cc" stroke="#58a0cc" stroke-width="0.6"/>
<polygon points="742.3,83.1 724.9,75.0 716.1,93.1 733.8,101.4" fill="#68c0e0" stroke="#68c0e0" stroke-width="0.6"/>
<polygon points="733.8,101.4 716.1,93.1 710.2,105.2 728.1,113.6" fill="#4c80b8" stroke="#4c80b8" stroke-width="0.6"/>
<polygon points="728.1,113.6 710.2,105.2 704.3,117.2 722.4,125.7" fill="#4460a4" stroke="#4460a4" stroke-width="0.6"/>
<polygon points="722.4,125.7 704.3,117.2 695.5,135.4 713.9,144.0" fill="#6478aa" stroke="#6478aa" stroke-width="0.6"/>
<polygon points="713.9,144.0 695.5,135.4 692.6,141.4 711.1,150.1" fill="#4460a4" stroke="#4460a4" stroke-width="0.6"/>
<polygon points="711.1,150.1 692.6,141.4 683.7,159.5 702.6,168.4" fill="#58a0cc" stroke="#58a0cc" stroke-width="0.6"/>
<polygon points="702.6,168.4 683.7,159.5 680.8,165.6 699.8,174.5" fill="#40d870" stroke="#40d870" stroke-width="0.6"/>
<polygon points="699.8,174.5 680.8,165.6 677.9,171.6 696.9,180.6" fill="#10b418" stroke="#10b418" stroke-width="0.6"/>
<polygon points="696.9,180.6 677.9,171.6 674.9,177.6 694.1,186.6" fill="#40d870" stroke="#40d870" stroke-width="0.6"/>
<polygon points="694.1,186.6 674.9,177.6 669.1,189.7 688.4,198.8" fill="#60d8c4" stroke="#60d8c4" stroke-width="0.6"/>
<polygon points="688.4,198.8 669.1,189.7 666.1,195.8 685.6,204.9" fill="#40d870" stroke="#40d870" stroke-width="0.6"/>
<polygon points="685.6,204.9 666.1,195.8 663.2,201.8 682.8,211.0" fill="#10cc18" stroke="#10cc18" stroke-width="0.6"/>
<polygon points="682.8,211.0 663.2,201.8 654.4,219.9 674.3,229.3" fill="#0c8c10" stroke="#0c8c10" stroke-width="0.6"/>
<polygon points="674.3,229.3 654.4,219.9 642.6,244.1 663.0,253.6" fill="#10b418" stroke="#10b418" stroke-width="0.6"/>
<polygon points="663.0,253.6 642.6,244.1 633.8,262.2 654.5,271.9" fill="#0a7410" stroke="#0a7410" stroke-width="0.6"/>
<polygon points="654.5,271.9 633.8,262.2 628.0,274.3 648.8,284.1" fill="#0c8c10" stroke="#0c8c10" stroke-width="0.6"/>
<polygon points="648.8,284.1 628.0,274.3 613.3,304.5 634.7,314.6" fill="#10b418" stroke="#10b418" stroke-width="0.6"/>
<polygon points="634.7,314.6 613.3,304.5 607.5,316.6 629.1,326.7" fill="#0a7410" stroke="#0a7410" stroke-width="0.6"/>
<polygon points="629.1,326.7 607.5,316.6 604.5,322.6 626.2,332.8" fill="#10a014" stroke="#10a014" stroke-width="0.6"/>
<polygon points="626.2,332.8 604.5,322.6 601.6,328.7 623.4,338.9" fill="#10cc18" stroke="#10cc18" stroke-width="0.6"/>
<polygon points="623.4,338.9 601.6,328.7 595.7,340.8 617.8,351.1" fill="#40d870" stroke="#40d870" stroke-width="0.6"/>
<polygon points="617.8,351.1 595.7,340.8 589.9,352.8 612.1,363.3" fill="#4460a4" stroke="#4460a4" stroke-width="0.6"/>
<polygon points="612.1,363.3 589.9,352.8 586.9,358.9 609.3,369.4" fill="#4c80b8" stroke="#4c80b8" stroke-width="0.6"/>
<polygon points="609.3,369.4 586.9,358.9 584.0,364.9 606.5,375.5" fill="#40d870" stroke="#40d870" stroke-width="0.6"/>
<polygon points="606.5,375.5 584.0,364.9 575.2,383.1 598.0,393.7" fill="#10cc18" stroke="#10cc18" stroke-width="0.6"/>
<polygon points="730.8,62.9 713.8,54.5 707.7,66.5 724.9,75.0" fill="#6478aa" stroke="#6478aa" stroke-width="0.6"/>
<polygon points="724.9,75.0 707.7,66.5 704.6,72.5 722.0,81.0" fill="#5468a2" stroke="#5468a2" stroke-width="0.6"/>
<polygon points="722.0,81.0 704.6,72.5 698.5,84.5 716.1,93.1" fill="#6478aa" stroke="#6478aa" stroke-width="0.6"/>
<polygon points="713.1,99.1 695.5,90.4 692.4,96.4 710.2,105.2" fill="#4c80b8" stroke="#4c80b8" stroke-width="0.6"/>
<polygon points="701.4,123.3 683.3,114.4 677.2,126.4 695.5,135.4" fill="#4460a4" stroke="#4460a4" stroke-width="0.6"/>
<polygon points="695.5,135.4 677.2,126.4 668.1,144.3 686.7,153.5" fill="#4c80b8" stroke="#4c80b8" stroke-width="0.6"/>
<polygon points="686.7,153.5 668.1,144.3 662.0,156.3 680.8,165.6" fill="#68c0e0" stroke="#68c0e0" stroke-width="0.6"/>
<polygon points="680.8,165.6 662.0,156.3 649.8,180.3 669.1,189.7" fill="#58a0cc" stroke="#58a0cc" stroke-width="0.6"/>
<polygon points="669.1,189.7 649.8,180.3 646.8,186.3 666.1,195.8" fill="#68c0e0" stroke="#68c0e0" stroke-width="0.6"/>
<polygon points="666.1,195.8 646.8,186.3 643.8,192.3 663.2,201.8" fill="#40d870" stroke="#40d870" stroke-width="0.6"/>
<polygon points="663.2,201.8 643.8,192.3 637.7,204.2 657.3,213.9" fill="#10cc18" stroke="#10cc18" stroke-width="0.6"/>
<polygon points="657.3,213.9 637.7,204.2 628.6,222.2 648.5,232.0" fill="#10a014" stroke="#10a014" stroke-width="0.6"/>
<polygon points="648.5,232.0 628.6,222.2 616.4,246.2 636.8,256.2" fill="#0a7410" stroke="#0a7410" stroke-width="0.6"/>
<polygon points="636.8,256.2 616.4,246.2 613.4,252.2 633.8,262.2" fill="#0c8c10" stroke="#0c8c10" stroke-width="0.6"/>
<polygon points="633.8,262.2 613.4,252.2 607.3,264.1 628.0,274.3" fill="#10a014" stroke="#10a014" stroke-width="0.6"/>
<polygon points="628.0,274.3 607.3,264.1 601.2,276.1 622.1,286.4" fill="#10b418" stroke="#10b418" stroke-width="0.6"/>
<polygon points="622.1,286.4 601.2,276.1 595.1,288.1 616.2,298.5" fill="#0c8c10" stroke="#0c8c10" stroke-width="0.6"/>
<polygon points="616.2,298.5 595.1,288.1 586.0,306.1 607.5,316.6" fill="#447c0c" stroke="#447c0c" stroke-width="0.6"/>
<polygon points="607.5,316.6 586.0,306.1 580.0,318.1 601.6,328.7" fill="#10a014" stroke="#10a014" stroke-width="0.6"/>
<polygon points="601.6,328.7 580.0,318.1 573.9,330.0 595.7,340.8" fill="#10cc18" stroke="#10cc18" stroke-width="0.6"/>
<polygon points="595.7,340.8 573.9,330.0 564.8,348.0 586.9,358.9" fill="#68c0e0" stroke="#68c0e0" stroke-width="0.6"/>
<polygon points="586.9,358.9 564.8,348.0 558.7,360.0 581.1,371.0" fill="#10b418" stroke="#10b418" stroke-width="0.6"/>
<polygon points="581.1,371.0 558.7,360.0 555.7,366.0 578.2,377.0" fill="#40d870" stroke="#40d870" stroke-width="0.6"/>
<polygon points="692.4,96.4 674.8,87.4 668.5,99.3 686.3,108.4" fill="#4460a4" stroke="#4460a4" stroke-width="0.6"/>
<polygon points="686.3,108.4 668.5,99.3 656.0,123.0 674.2,132.4" fill="#68c0e0" stroke="#68c0e0" stroke-width="0.6"/>
<polygon points="674.2,132.4 656.0,123.0 649.7,134.9 668.1,144.3" fill="#60d8c4" stroke="#60d8c4" stroke-width="0.6"/>
<polygon points="668.1,144.3 649.7,134.9 640.2,152.7 659.0,162.3" fill="#58a0cc" stroke="#58a0cc" stroke-width="0.6"/>
<polygon points="659.0,162.3 640.2,152.7 633.9,164.6 652.9,174.3" fill="#4460a4" stroke="#4460a4" stroke-width="0.6"/>
<polygon points="652.9,174.3 633.9,164.6 630.8,170.5 649.8,180.3" fill="#5468a2" stroke="#5468a2" stroke-width="0.6"/>
<polygon points="649.8,180.3 630.8,170.5 624.5,182.4 643.8,192.3" fill="#68c0e0" stroke="#68c0e0" stroke-width="0.6"/>
<polygon points="643.8,192.3 624.5,182.4 621.3,188.3 640.7,198.3" fill="#10cc18" stroke="#10cc18" stroke-width="0.6"/>
<polygon points="634.6,210.2 615.1,200.2 611.9,206.1 631.6,216.2" fill="#60d8c4" stroke="#60d8c4" stroke-width="0.6"/>
<polygon points="631.6,216.2 611.9,206.1 608.8,212.1 628.6,222.2" fill="#40d870" stroke="#40d870" stroke-width="0.6"/>
<polygon points="628.6,222.2 608.8,212.1 602.5,223.9 622.5,234.2" fill="#58a0cc" stroke="#58a0cc" stroke-width="0.6"/>
<polygon points="622.5,234.2 602.5,223.9 599.3,229.9 619.4,240.2" fill="#40d870" stroke="#40d870" stroke-width="0.6"/>
<polygon points="619.4,240.2 599.3,229.9 593.1,241.8 613.4,252.2" fill="#68c0e0" stroke="#68c0e0" stroke-width="0.6"/>
<polygon points="613.4,252.2 593.1,241.8 589.9,247.7 610.3,258.1" fill="#10b418" stroke="#10b418" stroke-width="0.6"/>
<polygon points="610.3,258.1 589.9,247.7 586.8,253.6 607.3,264.1" fill="#40d870" stroke="#40d870" stroke-width="0.6"/>
<polygon points="607.3,264.1 586.8,253.6 583.6,259.6 604.2,270.1" fill="#68c0e0" stroke="#68c0e0" stroke-width="0.6"/>
<polygon points="604.2,270.1 583.6,259.6 574.2,277.4 595.1,288.1" fill="#10cc18" stroke="#10cc18" stroke-width="0.6"/>
<polygon points="595.1,288.1 574.2,277.4 571.1,283.3 592.1,294.1" fill="#10a014" stroke="#10a014" stroke-width="0.6"/>
<polygon points="592.1,294.1 571.1,283.3 561.6,301.1 583.0,312.1" fill="#0c8c10" stroke="#0c8c10" stroke-width="0.6"/>
<polygon points="583.0,312.1 561.6,301.1 555.4,313.0 576.9,324.0" fill="#10cc18" stroke="#10cc18" stroke-width="0.6"/>
<polygon points="576.9,324.0 555.4,313.0 539.7,342.7 561.7,354.0" fill="#68c0e0" stroke="#68c0e0" stroke-width="0.6"/>
<polygon points="561.7,354.0 539.7,342.7 536.5,348.6 558.7,360.0" fill="#5468a2" stroke="#5468a2" stroke-width="0.6"/>
<polygon points="674.8,87.4 657.4,78.1 654.1,84.0 671.7,93.4" fill="#4460a4" stroke="#4460a4" stroke-width="0.6"/>
<polygon points="671.7,93.4 654.1,84.0 644.4,101.6 662.2,111.2" fill="#58a0cc" stroke="#58a0cc" stroke-width="0.6"/>
<polygon points="662.2,111.2 644.4,101.6 637.9,113.4 656.0,123.0" fill="#4c80b8" stroke="#4c80b8" stroke-width="0.6"/>
<polygon points="656.0,123.0 637.9,113.4 634.6,119.3 652.8,129.0" fill="#4460a4" stroke="#4460a4" stroke-width="0.6"/>
<polygon points="652.8,129.0 634.6,119.3 618.4,148.7 637.1,158.6" fill="#5468a2" stroke="#5468a2" stroke-width="0.6"/>
<polygon points="602.5,223.9 582.7,213.4 579.4,219.2 599.3,229.9" fill="#4460a4" stroke="#4460a4" stroke-width="0.6"/>
<polygon points="599.3,229.9 579.4,219.2 572.9,231.0 593.1,241.8" fill="#4c80b8" stroke="#4c80b8" stroke-width="0.6"/>
<polygon points="593.1,241.8 572.9,231.0 569.7,236.9 589.9,247.7" fill="#58a0cc" stroke="#58a0cc" stroke-width="0.6"/>
<polygon points="589.9,247.7 569.7,236.9 563.2,248.6 583.6,259.6" fill="#68c0e0" stroke="#68c0e0" stroke-width="0.6"/>
<polygon points="583.6,259.6 563.2,248.6 553.5,266.3 574.2,277.4" fill="#40d870" stroke="#40d870" stroke-width="0.6"/>
<polygon points="574.2,277.4 553.5,266.3 540.5,289.8 561.6,301.1" fill="#60d8c4" stroke="#60d8c4" stroke-width="0.6"/>
<polygon points="555.4,313.0 534.0,301.6 530.8,307.5 552.2,318.9" fill="#60d8c4" stroke="#60d8c4" stroke-width="0.6"/>
<polygon points="552.2,318.9 530.8,307.5 527.5,313.4 549.1,324.9" fill="#68c0e0" stroke="#68c0e0" stroke-width="0.6"/>
<polygon points="545.9,330.8 524.3,319.2 521.0,325.1 542.8,336.8" fill="#58a0cc" stroke="#58a0cc" stroke-width="0.6"/>
<polygon points="542.8,336.8 521.0,325.1 514.6,336.9 536.5,348.6" fill="#5468a2" stroke="#5468a2" stroke-width="0.6"/>
<polygon points="657.4,78.1 640.1,68.5 636.8,74.3 654.1,84.0" fill="#5468a2" stroke="#5468a2" stroke-width="0.6"/>
<polygon points="654.1,84.0 636.8,74.3 626.7,91.8 644.4,101.6" fill="#4460a4" stroke="#4460a4" stroke-width="0.6"/>
<polygon points="644.4,101.6 626.7,91.8 616.6,109.2 634.6,119.3" fill="#5468a2" stroke="#5468a2" stroke-width="0.6"/>
<polygon points="569.7,236.9 549.6,225.7 546.3,231.6 566.4,242.8" fill="#4460a4" stroke="#4460a4" stroke-width="0.6"/>
<polygon points="566.4,242.8 546.3,231.6 543.0,237.4 563.2,248.6" fill="#68c0e0" stroke="#68c0e0" stroke-width="0.6"/>
<polygon points="550.2,272.2 529.6,260.7 526.2,266.5 547.0,278.1" fill="#5468a2" stroke="#5468a2" stroke-width="0.6"/></g>
<g fill="none" stroke="#000" stroke-width="2.75" stroke-linejoin="round" stroke-linecap="butt">
<polyline points="78.0,905.0 85.5,938.5 92.9,1009.5 114.2,1029.2 120.0,1035.0"/>
<polyline points="240.0,1036.0 243.5,1029.2 252.6,1012.7 282.4,1013.7 298.1,1029.2 303.0,1035.0"/>
<polyline points="337.5,1036.0 337.5,1029.0 337.1,1008.1 351.8,994.8 380.0,985.7 394.0,936.0 423.4,946.5 448.3,930.2 446.9,901.4 482.7,884.3 491.4,889.2 563.5,889.8 564.3,880.3 599.7,885.8 613.2,873.5 678.2,899.2 686.7,927.6 704.0,948.5 722.9,945.1 716.0,964.4 761.7,977.9 789.7,1008.6 808.5,1003.9 816.4,1011.2 823.5,1008.2 847.8,1029.2 857.3,1029.2"/>
<path d="M1020.0,363.0 C1019.1,364.4 1019.3,364.5 1016.4,368.7 C1013.5,372.9 1013.9,374.2 1008.5,379.6 C1003.1,385.1 1002.1,385.1 994.7,390.5 C987.3,395.9 984.6,396.1 978.9,401.3 C973.2,406.5 974.6,405.8 972.0,411.2 C969.4,416.6 968.8,418.3 968.5,423.0 C968.2,427.7 968.6,427.8 971.0,429.9 C973.4,432.0 974.0,431.4 978.0,431.5 C982.0,431.6 982.6,429.6 986.8,430.5 C991.0,431.4 992.1,431.6 994.7,434.9 C997.3,438.2 997.3,438.3 997.3,443.7 C997.3,449.1 997.3,449.0 994.7,456.6 C992.1,464.2 991.7,463.5 986.8,474.3 C981.9,485.1 979.4,489.6 975.0,500.0 C970.6,510.4 971.3,508.4 969.1,515.8 C966.9,523.2 967.6,524.2 966.1,529.6 C964.6,535.0 964.3,533.1 963.2,537.5 C962.1,541.9 964.0,541.7 961.8,547.0 C959.6,552.3 959.3,553.6 954.4,558.6 C949.5,563.6 947.4,561.7 942.0,566.9 C936.6,572.1 936.8,572.6 932.7,579.3 C928.6,586.0 929.4,587.6 925.5,593.8 C921.6,600.0 922.4,600.0 917.2,604.1 C912.0,608.2 911.3,608.3 904.8,610.3 C898.3,612.3 896.5,610.5 891.3,612.0 C886.1,613.5 888.5,612.3 884.1,616.5 C879.7,620.7 877.8,623.2 873.8,628.9 C869.8,634.6 869.6,634.1 868.2,639.3 C866.8,644.5 866.8,644.5 868.2,649.6 C869.6,654.8 870.3,655.2 873.8,659.9 C877.2,664.5 879.7,664.3 882.0,668.2 C884.3,672.1 883.9,672.0 883.1,675.4 C882.3,678.8 881.8,679.9 878.9,681.6 C876.0,683.3 875.3,683.3 871.7,682.3 C868.1,681.3 867.9,679.2 864.5,677.5 C861.1,675.8 862.7,674.9 858.3,675.4 C853.9,675.9 852.1,676.5 846.9,679.6 C841.7,682.7 840.5,684.2 837.6,687.8 C834.8,691.4 835.0,690.6 835.5,694.0 C836.0,697.4 834.2,696.4 839.6,701.3 C845.0,706.2 847.6,706.7 857.2,713.7 C866.8,720.7 871.4,723.5 877.9,729.2 C884.4,734.9 881.6,733.2 883.1,736.4 C884.6,739.6 883.9,738.9 883.8,742.0 C883.7,745.1 884.3,743.6 882.6,749.0 C880.9,754.4 881.2,757.5 877.0,763.7 C872.8,769.9 870.5,768.2 865.7,773.8 C860.9,779.4 862.3,780.8 857.8,786.2 C853.3,791.6 852.5,790.2 847.7,795.3 C842.9,800.4 841.9,800.9 838.6,806.5 C835.3,812.1 835.2,812.4 834.6,817.8 C834.0,823.2 834.8,820.4 836.4,828.0 C838.0,835.6 838.1,838.1 840.9,848.3 C843.7,858.4 844.8,859.6 847.7,868.6 C850.6,877.6 850.8,876.0 852.6,884.4 C854.5,892.8 854.7,893.4 855.1,902.4 C855.5,911.4 853.7,910.4 854.4,920.5 C855.1,930.6 857.5,931.7 857.8,943.0 C858.1,954.3 856.1,960.0 855.6,965.6"/>
<polyline points="855.6,965.6 855.3,970.0 855.7,992.4 854.4,1000.7 862.7,1003.1 862.7,1008.9 855.7,1009.6 857.3,1029.2 857.8,1036.0"/>
<polyline points="862.7,1008.9 867.7,1010.6 869.4,1016.2 879.3,1015.2 879.7,1010.4 890.9,1012.3 897.9,1016.0 904.6,1016.8 911.6,1015.2 922.8,1008.9 924.8,1011.6 932.4,1007.6 940.7,999.4 946.5,995.6 951.5,989.8 957.3,979.9 968.9,982.5 971.4,979.9 974.7,979.9 985.9,991.3 982.6,993.6 988.8,1001.0 988.4,1002.3 991.7,1003.1 991.4,1005.2 996.6,1009.5 1001.9,1004.3 1006.2,1007.6 1015.3,1011.8 1022.0,1014.5"/>
</g>
<polygon points="493.7,564.5 494.9,561.4 499.9,557.1 507.3,552.7 512.3,549.0 519.8,545.9 520.0,544.0 517.9,541.5 529.7,534.7 532.8,534.1 534.7,532.2 536.5,534.7 538.4,533.5 539.6,531.0 538.4,527.9 542.1,524.8 543.4,525.4 544.6,521.7 547.7,517.9 551.5,514.8 556.4,513.0 560.8,509.2 562.6,507.4 565.7,508.0 568.2,509.2 572.0,512.3 574.4,510.5 579.4,511.1 581.3,509.2 577.6,500.5 584.4,497.1 589.1,504.3 595.6,500.5 596.2,498.7 599.9,499.3 604.3,501.2 609.2,503.6 611.7,506.7 611.1,510.5 608.0,512.6 603.0,514.2 595.6,516.1 589.4,518.6 584.4,520.4 580.0,524.8 580.0,532.0 573.8,536.0 571.3,531.0 567.0,531.2 558.3,534.7 557.7,536.6 552.1,538.4 545.9,542.8 542.1,547.8 540.9,554.6 537.8,561.4 539.0,563.3 534.7,567.0 534.7,570.1 523.5,569.5 522.9,567.0 518.5,564.5 511.1,564.5 502.4,567.0 496.2,566.8" fill="#c0c0c0" stroke="#484848" stroke-width="1.3" stroke-linejoin="round"/>
<path d="M558.3,517.3 L557,514.2 L560.8,511.7 L563.9,509.9 L562.6,508 L560.2,508.6 L559.5,511.7" fill="none" stroke="#222" stroke-width="1"/>
<g fill="none" stroke="#000" stroke-width="4.17" stroke-dasharray="15.42 6.67">
<path d="M538.20,113.80 L530.71,113.87 L523.22,114.06 L515.74,114.39 L508.27,114.85 L500.80,115.43 L493.35,116.15 L485.91,117.00 L478.48,117.98 L471.07,119.08 L463.69,120.32 L456.32,121.68 L448.99,123.18 L441.67,124.80 L434.39,126.55 L427.14,128.42 L419.92,130.42 L412.74,132.55 L405.60,134.80 L398.50,137.18 L391.44,139.68 L384.42,142.30 L377.46,145.05 L370.54,147.91 L363.67,150.90 L356.85,154.00 L350.09,157.23 L343.39,160.57 L336.75,164.03 L330.17,167.60 L323.65,171.29 L317.20,175.09 L310.81,179.00 L304.50,183.03 L298.25,187.16 L292.08,191.40 L285.98,195.75 L279.96,200.21 L274.02,204.76 L268.16,209.43 L262.38,214.19 L256.69,219.05 L251.08,224.02 L245.55,229.08 L240.12,234.23 L234.78,239.48 L229.53,244.82 L224.38,250.25 L219.32,255.78 L214.35,261.39 L209.49,267.08 L204.73,272.86 L200.06,278.72 L195.51,284.66 L191.05,290.68 L186.70,296.78 L182.46,302.95 L178.33,309.20 L174.30,315.51 L170.39,321.90 L166.59,328.35 L162.90,334.87 L159.33,341.45 L155.87,348.09 L152.53,354.79 L149.30,361.55 L146.20,368.37 L143.21,375.24 L140.35,382.16 L137.60,389.12 L134.98,396.14 L132.48,403.20 L130.10,410.30 L127.85,417.44 L125.72,424.62 L123.72,431.84 L121.85,439.09 L120.10,446.37 L118.48,453.69 L116.98,461.02 L115.62,468.39 L114.38,475.77 L113.28,483.18 L112.30,490.61 L111.45,498.05 L110.73,505.50 L110.15,512.97 L109.69,520.44 L109.36,527.92 L109.17,535.41 L109.10,542.90 L109.17,550.39 L109.36,557.88 L109.69,565.36 L110.15,572.83 L110.73,580.30 L111.45,587.75 L112.30,595.19 L113.28,602.62 L114.38,610.03 L115.62,617.41 L116.98,624.78 L118.48,632.11 L120.10,639.43 L121.85,646.71 L123.72,653.96 L125.72,661.18 L127.85,668.36 L130.10,675.50 L132.48,682.60 L134.98,689.66 L137.60,696.68 L140.35,703.64 L143.21,710.56 L146.20,717.43 L149.30,724.25 L152.53,731.01 L155.87,737.71 L159.33,744.35 L162.90,750.93 L166.59,757.45 L170.39,763.90 L174.30,770.29 L178.33,776.60 L182.46,782.85 L186.70,789.02 L191.05,795.12 L195.51,801.14 L200.06,807.08 L204.73,812.94 L209.49,818.72 L214.35,824.41 L219.32,830.02 L224.38,835.55 L229.53,840.98 L234.78,846.32 L240.12,851.57 L245.55,856.72 L251.08,861.78 L256.69,866.75 L262.38,871.61 L268.16,876.37 L274.02,881.04 L279.96,885.59 L285.98,890.05 L292.08,894.40 L298.25,898.64 L304.50,902.77 L310.81,906.80 L317.20,910.71 L323.65,914.51 L330.17,918.20 L336.75,921.77 L343.39,925.23 L350.09,928.57 L356.85,931.80 L363.67,934.90 L370.54,937.89 L377.46,940.75 L384.42,943.50 L391.44,946.12 L398.50,948.62 L405.60,951.00 L412.74,953.25 L419.92,955.38 L427.14,957.38 L434.39,959.25 L441.67,961.00 L448.99,962.62 L456.32,964.12 L463.69,965.48 L471.07,966.72 L478.48,967.82 L485.91,968.80 L493.35,969.65 L500.80,970.37 L508.27,970.95 L515.74,971.41 L523.22,971.74 L530.71,971.93 L538.20,972.00 L545.69,971.93 L553.18,971.74 L560.66,971.41 L568.13,970.95 L575.60,970.37 L583.05,969.65 L590.49,968.80 L597.92,967.82 L605.33,966.72 L612.71,965.48 L620.08,964.12 L627.41,962.62 L634.73,961.00 L642.01,959.25 L649.26,957.38 L656.48,955.38 L663.66,953.25 L670.80,951.00 L677.90,948.62 L684.96,946.12 L691.98,943.50 L698.94,940.75 L705.86,937.89 L712.73,934.90 L719.55,931.80 L726.31,928.57 L733.01,925.23 L739.65,921.77 L746.23,918.20 L752.75,914.51 L759.20,910.71 L765.59,906.80 L771.90,902.77 L778.15,898.64 L784.32,894.40 L790.42,890.05 L796.44,885.59 L802.38,881.04 L808.24,876.37 L814.02,871.61 L819.71,866.75 L825.32,861.78 L830.85,856.72 L836.28,851.57 L841.62,846.32 L846.87,840.98 L852.02,835.55 L857.08,830.02 L862.05,824.41 L866.91,818.72 L871.67,812.94 L876.34,807.08 L880.89,801.14 L885.35,795.12 L889.70,789.02 L893.94,782.85 L898.07,776.60 L902.10,770.29 L906.01,763.90 L909.81,757.45 L913.50,750.93 L917.07,744.35 L920.53,737.71 L923.87,731.01 L927.10,724.25 L930.20,717.43 L933.19,710.56 L936.05,703.64 L938.80,696.68 L941.42,689.66 L943.92,682.60 L946.30,675.50 L948.55,668.36 L950.68,661.18 L952.68,653.96 L954.55,646.71 L956.30,639.43 L957.92,632.11 L959.42,624.78 L960.78,617.41 L962.02,610.03 L963.12,602.62 L964.10,595.19 L964.95,587.75 L965.67,580.30 L966.25,572.83 L966.71,565.36 L967.04,557.88 L967.23,550.39 L967.30,542.90 L967.23,535.41 L967.04,527.92 L966.71,520.44 L966.25,512.97 L965.67,505.50 L964.95,498.05 L964.10,490.61 L963.12,483.18 L962.02,475.77 L960.78,468.39 L959.42,461.02 L957.92,453.69 L956.30,446.37 L954.55,439.09 L952.68,431.84 L950.68,424.62 L948.55,417.44 L946.30,410.30 L943.92,403.20 L941.42,396.14 L938.80,389.12 L936.05,382.16 L933.19,375.24 L930.20,368.37 L927.10,361.55 L923.87,354.79 L920.53,348.09 L917.07,341.45 L913.50,334.87 L909.81,328.35 L906.01,321.90 L902.10,315.51 L898.07,309.20 L893.94,302.95 L889.70,296.78 L885.35,290.68 L880.89,284.66 L876.34,278.72 L871.67,272.86 L866.91,267.08 L862.05,261.39 L857.08,255.78 L852.02,250.25 L846.87,244.82 L841.62,239.48 L836.28,234.23 L830.85,229.08 L825.32,224.02 L819.71,219.05 L814.02,214.19 L808.24,209.43 L802.38,204.76 L796.44,200.21 L790.42,195.75 L784.32,191.40 L778.15,187.16 L771.90,183.03 L765.59,179.00 L759.20,175.09 L752.75,171.29 L746.23,167.60 L739.65,164.03 L733.01,160.57 L726.31,157.23 L719.55,154.00 L712.73,150.90 L705.86,147.91 L698.94,145.05 L691.98,142.30 L684.96,139.68 L677.90,137.18 L670.80,134.80 L663.66,132.55 L656.48,130.42 L649.26,128.42 L642.01,126.55 L634.73,124.80 L627.41,123.18 L620.08,121.68 L612.71,120.32 L605.33,119.08 L597.92,117.98 L590.49,117.00 L583.05,116.15 L575.60,115.43 L568.13,114.85 L560.66,114.39 L553.18,114.06 L545.69,113.87 L538.20,113.80"/><path d="M538.25,329.00 L534.51,329.03 L530.76,329.13 L527.02,329.29 L523.29,329.52 L519.56,329.82 L515.83,330.18 L512.11,330.60 L508.40,331.09 L504.69,331.64 L501.00,332.26 L497.32,332.94 L493.65,333.69 L490.00,334.50 L486.36,335.37 L482.73,336.31 L479.13,337.31 L475.54,338.37 L471.97,339.50 L468.42,340.69 L464.89,341.94 L461.38,343.25 L457.90,344.62 L454.44,346.05 L451.00,347.54 L447.60,349.10 L444.22,350.71 L440.87,352.38 L437.55,354.11 L434.26,355.89 L431.00,357.74 L427.77,359.64 L424.58,361.59 L421.42,363.61 L418.30,365.67 L415.22,367.79 L412.17,369.97 L409.16,372.19 L406.19,374.47 L403.26,376.80 L400.37,379.18 L397.53,381.61 L394.72,384.10 L391.96,386.62 L389.25,389.20 L386.58,391.83 L383.95,394.50 L381.37,397.21 L378.85,399.97 L376.36,402.78 L373.93,405.62 L371.55,408.51 L369.22,411.44 L366.94,414.41 L364.72,417.42 L362.54,420.47 L360.42,423.55 L358.36,426.67 L356.34,429.83 L354.39,433.02 L352.49,436.25 L350.64,439.51 L348.86,442.80 L347.13,446.12 L345.46,449.47 L343.85,452.85 L342.29,456.25 L340.80,459.69 L339.37,463.15 L338.00,466.63 L336.69,470.14 L335.44,473.67 L334.25,477.22 L333.12,480.79 L332.06,484.38 L331.06,487.98 L330.12,491.61 L329.25,495.25 L328.44,498.90 L327.69,502.57 L327.01,506.25 L326.39,509.94 L325.84,513.65 L325.35,517.36 L324.93,521.08 L324.57,524.81 L324.27,528.54 L324.04,532.27 L323.88,536.01 L323.78,539.76 L323.75,543.50 L323.78,547.24 L323.88,550.99 L324.04,554.73 L324.27,558.46 L324.57,562.19 L324.93,565.92 L325.35,569.64 L325.84,573.35 L326.39,577.06 L327.01,580.75 L327.69,584.43 L328.44,588.10 L329.25,591.75 L330.12,595.39 L331.06,599.02 L332.06,602.62 L333.12,606.21 L334.25,609.78 L335.44,613.33 L336.69,616.86 L338.00,620.37 L339.37,623.85 L340.80,627.31 L342.29,630.75 L343.85,634.15 L345.46,637.53 L347.13,640.88 L348.86,644.20 L350.64,647.49 L352.49,650.75 L354.39,653.98 L356.34,657.17 L358.36,660.33 L360.42,663.45 L362.54,666.53 L364.72,669.58 L366.94,672.59 L369.22,675.56 L371.55,678.49 L373.93,681.38 L376.36,684.22 L378.85,687.03 L381.37,689.79 L383.95,692.50 L386.58,695.17 L389.25,697.80 L391.96,700.38 L394.72,702.90 L397.53,705.39 L400.37,707.82 L403.26,710.20 L406.19,712.53 L409.16,714.81 L412.17,717.03 L415.22,719.21 L418.30,721.33 L421.42,723.39 L424.58,725.41 L427.77,727.36 L431.00,729.26 L434.26,731.11 L437.55,732.89 L440.87,734.62 L444.22,736.29 L447.60,737.90 L451.00,739.46 L454.44,740.95 L457.90,742.38 L461.38,743.75 L464.89,745.06 L468.42,746.31 L471.97,747.50 L475.54,748.63 L479.13,749.69 L482.73,750.69 L486.36,751.63 L490.00,752.50 L493.65,753.31 L497.32,754.06 L501.00,754.74 L504.69,755.36 L508.40,755.91 L512.11,756.40 L515.83,756.82 L519.56,757.18 L523.29,757.48 L527.02,757.71 L530.76,757.87 L534.51,757.97 L538.25,758.00 L541.99,757.97 L545.74,757.87 L549.48,757.71 L553.21,757.48 L556.94,757.18 L560.67,756.82 L564.39,756.40 L568.10,755.91 L571.81,755.36 L575.50,754.74 L579.18,754.06 L582.85,753.31 L586.50,752.50 L590.14,751.63 L593.77,750.69 L597.37,749.69 L600.96,748.63 L604.53,747.50 L608.08,746.31 L611.61,745.06 L615.12,743.75 L618.60,742.38 L622.06,740.95 L625.50,739.46 L628.90,737.90 L632.28,736.29 L635.63,734.62 L638.95,732.89 L642.24,731.11 L645.50,729.26 L648.73,727.36 L651.92,725.41 L655.08,723.39 L658.20,721.33 L661.28,719.21 L664.33,717.03 L667.34,714.81 L670.31,712.53 L673.24,710.20 L676.13,707.82 L678.97,705.39 L681.78,702.90 L684.54,700.38 L687.25,697.80 L689.92,695.17 L692.55,692.50 L695.13,689.79 L697.65,687.03 L700.14,684.22 L702.57,681.38 L704.95,678.49 L707.28,675.56 L709.56,672.59 L711.78,669.58 L713.96,666.53 L716.08,663.45 L718.14,660.33 L720.16,657.17 L722.11,653.98 L724.01,650.75 L725.86,647.49 L727.64,644.20 L729.37,640.88 L731.04,637.53 L732.65,634.15 L734.21,630.75 L735.70,627.31 L737.13,623.85 L738.50,620.37 L739.81,616.86 L741.06,613.33 L742.25,609.78 L743.38,606.21 L744.44,602.62 L745.44,599.02 L746.38,595.39 L747.25,591.75 L748.06,588.10 L748.81,584.43 L749.49,580.75 L750.11,577.06 L750.66,573.35 L751.15,569.64 L751.57,565.92 L751.93,562.19 L752.23,558.46 L752.46,554.73 L752.62,550.99 L752.72,547.24 L752.75,543.50 L752.72,539.76 L752.62,536.01 L752.46,532.27 L752.23,528.54 L751.93,524.81 L751.57,521.08 L751.15,517.36 L750.66,513.65 L750.11,509.94 L749.49,506.25 L748.81,502.57 L748.06,498.90 L747.25,495.25 L746.38,491.61 L745.44,487.98 L744.44,484.38 L743.38,480.79 L742.25,477.22 L741.06,473.67 L739.81,470.14 L738.50,466.63 L737.13,463.15 L735.70,459.69 L734.21,456.25 L732.65,452.85 L731.04,449.47 L729.37,446.12 L727.64,442.80 L725.86,439.51 L724.01,436.25 L722.11,433.02 L720.16,429.83 L718.14,426.67 L716.08,423.55 L713.96,420.47 L711.78,417.42 L709.56,414.41 L707.28,411.44 L704.95,408.51 L702.57,405.62 L700.14,402.78 L697.65,399.97 L695.13,397.21 L692.55,394.50 L689.92,391.83 L687.25,389.20 L684.54,386.62 L681.78,384.10 L678.97,381.61 L676.13,379.18 L673.24,376.80 L670.31,374.47 L667.34,372.19 L664.33,369.97 L661.28,367.79 L658.20,365.67 L655.08,363.61 L651.92,361.59 L648.73,359.64 L645.50,357.74 L642.24,355.89 L638.95,354.11 L635.63,352.38 L632.28,350.71 L628.90,349.10 L625.50,347.54 L622.06,346.05 L618.60,344.62 L615.12,343.25 L611.61,341.94 L608.08,340.69 L604.53,339.50 L600.96,338.37 L597.37,337.31 L593.77,336.31 L590.14,335.37 L586.50,334.50 L582.85,333.69 L579.18,332.94 L575.50,332.26 L571.81,331.64 L568.10,331.09 L564.39,330.60 L560.67,330.18 L556.94,329.82 L553.21,329.52 L549.48,329.29 L545.74,329.13 L541.99,329.03 L538.25,329.00"/>
</g>
<g fill="none" stroke="#858585" stroke-opacity="0.3" stroke-width="0.7" stroke-linejoin="round">
<path d="M163.5,45.6 C159.9,46.8 149.8,49.8 143.6,51.9 C137.4,54.0 133.3,54.7 129.7,56.9 C126.1,59.1 125.2,60.6 123.7,63.9 C122.2,67.2 121.6,70.6 121.4,74.8 C121.2,79.0 121.6,82.9 122.8,86.7 C124.0,90.5 125.8,92.4 127.7,95.7 C129.6,99.0 132.5,101.7 133.3,104.6 C134.1,107.5 133.7,109.1 132.1,111.6 C130.5,114.1 128.4,116.1 124.7,118.5 C121.0,120.9 115.3,122.1 111.8,124.5 C108.3,126.9 107.2,128.0 105.8,131.5 C104.4,135.0 104.3,139.0 104.3,143.4 C104.3,147.8 104.2,151.5 105.8,155.3 C107.4,159.1 110.2,160.3 112.8,164.3 C115.4,168.3 116.3,171.6 119.8,177.2 C123.3,182.8 128.2,188.9 131.7,195.1 C135.2,201.3 136.8,206.3 138.7,211.0 C140.6,215.7 142.6,217.1 142.0,220.9 C141.4,224.7 138.0,225.6 135.7,231.8 C133.4,238.0 128.6,245.6 129.3,254.7 C130.0,263.8 137.8,270.8 139.7,281.5 C141.6,292.2 139.0,305.5 139.7,313.3 C140.4,321.1 141.1,321.2 143.6,324.3 C146.1,327.4 149.6,329.1 153.6,330.2 C157.6,331.3 160.4,331.3 165.5,330.2 C170.6,329.1 176.7,325.1 181.4,324.3 C186.1,323.5 188.3,325.0 191.4,325.7 C194.5,326.4 195.9,328.0 198.3,328.3 C200.7,328.6 200.5,325.5 204.3,327.3 C208.1,329.1 214.3,335.6 219.2,338.2 C224.1,340.8 226.7,341.4 231.1,341.6 C235.5,341.8 238.7,341.5 243.1,339.2 C247.5,336.9 251.4,332.9 255.0,329.3 C258.6,325.7 258.9,320.0 262.5,319.3 C266.1,318.6 270.1,323.9 274.9,325.3 C279.7,326.7 282.5,327.7 288.8,326.9 C295.1,326.1 303.8,319.4 309.5,320.8 C315.2,322.2 316.0,330.3 319.9,334.7 C323.8,339.1 326.4,343.8 330.8,344.6 C335.2,345.4 338.8,340.4 343.7,339.1 C348.6,337.8 351.9,337.8 357.7,337.7 C363.5,337.6 370.5,337.8 375.6,338.7 C380.7,339.6 381.9,340.4 385.5,342.6 C389.1,344.8 391.4,348.1 395.4,350.6 C399.4,353.1 401.6,354.7 407.4,356.0 C413.2,357.3 418.6,357.2 427.3,357.6 C436.0,358.0 448.2,358.5 455.1,358.1 C462.0,357.7 462.0,357.0 465.0,355.6 C468.0,354.2 469.9,353.0 471.4,350.6 C472.9,348.2 471.6,345.5 473.0,342.6 C474.4,339.7 475.7,337.8 479.0,334.7 C482.3,331.6 487.8,329.0 490.9,325.7 C494.0,322.4 494.9,321.5 495.9,316.8 C496.9,312.1 496.2,307.6 496.5,299.9 C496.8,292.2 496.6,281.9 497.4,274.6 C498.2,267.3 497.3,262.3 501.1,259.9 C504.9,257.5 513.5,262.1 518.2,261.6 C522.9,261.1 524.0,259.2 526.6,257.3 C529.2,255.4 530.6,254.1 532.4,251.5 C534.2,248.9 535.3,246.2 536.2,243.2 C537.1,240.2 536.6,237.6 537.4,234.9 C538.2,232.2 538.9,230.4 540.7,228.3 C542.5,226.2 544.7,225.1 547.3,223.3 C549.9,221.5 550.7,221.6 554.8,218.5 C558.9,215.4 563.7,212.0 569.5,206.2 C575.3,200.4 582.1,192.2 586.6,186.6 C591.1,181.0 589.5,177.7 594.0,175.6 C598.5,173.5 604.8,175.0 611.1,175.1 C617.4,175.2 621.3,175.1 628.2,176.1 C635.1,177.1 642.4,178.2 648.9,180.8 C655.4,183.4 658.4,187.6 663.9,190.2 C669.4,192.8 674.1,194.0 678.9,194.9 C683.7,195.8 684.3,193.5 690.2,194.9 C696.1,196.3 703.3,199.5 710.9,202.4 C718.5,205.3 725.7,208.6 731.6,210.9 C737.5,213.2 739.1,212.3 742.9,214.7 C746.7,217.1 749.2,220.3 752.3,224.1 C755.4,227.9 756.8,231.6 759.8,235.3 C762.8,239.0 767.1,242.6 768.8,244.2"/>
<path d="M768.8,244.2 C770.2,242.6 773.3,238.5 776.7,235.3 C780.1,232.1 783.1,228.8 787.3,226.8 C791.5,224.8 791.7,225.2 799.5,224.3 C807.3,223.4 818.8,222.9 830.0,222.0 C841.2,221.1 852.5,220.2 860.6,219.4 C868.7,218.6 870.5,219.3 874.1,217.7 C877.7,216.1 879.3,214.7 880.2,210.9 C881.1,207.1 879.0,201.9 879.0,197.0 C879.0,192.1 879.1,188.6 880.2,184.0 C881.3,179.4 882.4,175.4 885.1,171.8 C887.8,168.2 890.3,166.2 894.9,164.4 C899.5,162.6 904.5,161.3 910.0,162.0 C915.5,162.7 920.4,164.7 925.0,168.0 C929.6,171.3 931.8,175.5 935.0,180.0 C938.2,184.5 939.5,188.6 942.5,192.5 C945.5,196.4 946.8,196.4 951.1,201.1 C955.4,205.8 960.8,213.7 965.7,218.2 C970.6,222.7 973.9,224.4 977.9,225.5 C981.9,226.6 984.6,225.6 987.7,224.3 C990.8,223.0 992.5,221.6 995.0,218.2 C997.5,214.8 998.5,210.3 1001.2,206.0 C1003.9,201.7 1007.2,197.7 1009.7,195.0 C1012.2,192.3 1013.2,192.4 1015.1,191.3 C1017.0,190.2 1019.1,189.4 1020.0,189.0"/>
<path d="M129.3,254.7 C127.6,254.6 124.1,254.2 119.8,254.1 C115.5,254.0 110.5,253.5 105.8,254.3 C101.1,255.1 97.6,257.5 93.9,258.7 C90.2,259.9 87.1,260.3 85.6,260.6"/>
<path d="M330.8,344.6 C328.8,346.2 323.4,350.0 319.9,353.6 C316.4,357.2 312.7,359.4 311.5,364.5 C310.3,369.6 312.0,374.3 313.5,381.4 C315.0,388.5 317.5,396.9 319.9,403.3 C322.3,409.7 324.3,412.2 326.8,416.2 C329.3,420.2 332.2,421.0 333.8,425.2 C335.4,429.4 335.4,431.2 335.4,439.1 C335.4,447.0 336.3,463.4 333.8,468.5 C331.3,473.6 327.6,467.7 321.9,466.9 C316.2,466.1 306.5,466.6 302.9,464.0 C299.3,461.4 303.4,455.9 302.4,452.5 C301.4,449.1 300.2,447.2 297.5,445.2 C294.8,443.2 291.7,442.2 287.7,441.5 C283.7,440.8 280.0,440.6 275.5,441.5 C271.0,442.4 266.9,443.9 263.3,446.4 C259.7,448.9 259.1,450.1 256.0,455.0 C252.9,459.9 249.8,466.8 246.2,473.3 C242.6,479.8 239.3,485.0 236.4,490.4 C233.5,495.8 231.7,497.7 230.3,502.6 C228.9,507.5 229.1,512.6 228.6,517.3 C228.1,522.0 229.9,524.9 227.8,528.3 C225.7,531.7 220.7,532.2 216.9,535.6 C213.1,539.0 210.3,542.3 207.1,546.6 C203.9,550.9 203.3,554.3 199.7,558.8 C196.1,563.3 191.5,567.7 187.5,571.1 C183.5,574.5 182.7,574.7 177.8,577.2 C172.9,579.7 167.5,582.5 160.6,584.5 C153.7,586.5 143.6,585.7 139.9,588.2 C136.2,590.7 139.7,593.4 140.6,597.9 C141.5,602.4 142.5,608.1 144.8,612.6 C147.1,617.1 150.5,619.0 153.3,622.4 C156.1,625.8 159.2,627.0 160.2,631.0 C161.2,635.0 160.1,637.5 158.7,644.4 C157.3,651.3 156.5,661.7 152.8,668.9 C149.1,676.1 144.0,677.9 138.7,683.5 C133.4,689.1 128.9,695.2 124.0,699.4 C119.1,703.6 115.8,705.2 111.8,706.3 C107.8,707.4 105.6,707.0 102.0,705.5 C98.4,704.0 95.2,700.9 92.2,698.2 C89.2,695.5 86.6,692.2 85.4,690.9"/>
<path d="M471.4,350.6 C472.1,351.5 472.5,353.9 475.0,355.6 C477.5,357.3 479.8,359.1 484.9,359.9 C490.0,360.7 497.3,360.7 502.8,359.9 C508.3,359.1 510.8,356.8 514.8,355.6 C518.8,354.4 520.1,353.9 524.7,353.6 C529.3,353.3 533.5,353.6 540.0,354.0 C546.5,354.4 556.3,355.6 560.0,356.0"/>
<path d="M605.2,45.5 C605.2,48.2 603.9,57.6 605.2,60.4 C606.5,63.2 610.1,61.6 612.2,60.6 C614.3,59.6 615.4,56.8 616.7,54.9 C618.0,53.0 618.4,51.7 619.2,50.0 C620.0,48.3 620.5,46.3 620.8,45.5"/>
<path d="M612.2,60.6 C612.5,61.6 612.9,63.7 613.7,65.8 C614.5,67.9 615.3,70.0 616.7,71.8 C618.1,73.6 619.6,74.7 621.6,75.8 C623.6,76.9 625.3,77.3 627.6,77.6 C629.9,77.9 629.9,77.5 634.0,77.6 C638.1,77.7 647.1,78.2 650.0,78.3"/>
<path d="M667.7,100.0 C668.0,102.1 667.8,107.5 669.5,111.3 C671.2,115.1 675.0,116.2 677.1,120.7 C679.2,125.2 681.0,129.5 680.8,135.7 C680.6,141.9 676.8,148.0 676.1,154.5 C675.4,161.0 675.5,165.5 677.1,171.4 C678.7,177.3 682.2,182.2 684.6,186.5 C687.0,190.8 689.2,193.4 690.2,194.9"/>
<path d="M152.8,668.9 C156.9,668.4 169.8,667.5 175.3,666.4 C180.8,665.3 179.0,665.0 182.6,662.8 C186.2,660.6 190.4,656.2 194.9,654.2 C199.4,652.2 200.8,651.8 207.1,651.8 C213.4,651.8 223.7,655.6 229.1,654.2 C234.5,652.8 232.8,647.3 236.4,644.4 C240.0,641.5 241.9,639.6 248.6,638.3 C255.3,637.0 267.1,638.0 273.1,637.1 C279.2,636.2 279.1,634.0 281.6,633.4 C284.1,632.8 285.3,632.5 286.5,633.9 C287.7,635.3 287.1,638.4 288.2,640.8 C289.3,643.2 292.1,643.1 292.6,646.9 C293.1,650.7 290.9,657.5 290.7,661.5 C290.5,665.5 289.3,666.6 291.4,668.9 C293.5,671.2 299.0,673.3 302.4,673.8 C305.8,674.3 307.0,672.7 309.8,671.8 C312.6,670.9 315.6,668.1 317.6,668.9 C319.6,669.7 318.9,672.6 320.8,676.2 C322.7,679.8 325.2,685.5 328.1,688.4 C331.0,691.3 334.9,690.5 336.7,692.1 C338.5,693.7 338.9,694.8 337.9,697.0 C336.9,699.2 332.2,702.1 331.3,704.3 C330.4,706.5 330.9,709.0 333.0,709.2 C335.1,709.4 340.3,705.1 342.8,705.5 C345.3,705.9 345.5,709.1 346.4,711.6 C347.3,714.1 345.4,717.0 347.7,719.0 C350.0,721.0 355.3,723.4 358.7,722.6 C362.1,721.8 361.1,715.7 366.0,714.8 C370.9,713.9 376.1,714.1 385.5,717.8 C394.9,721.5 409.2,729.5 417.3,734.9 C425.4,740.3 423.7,743.6 429.5,747.1 C435.3,750.6 444.2,751.4 449.1,753.9 C454.0,756.4 453.7,757.1 456.4,760.5 C459.1,763.9 461.7,768.0 463.7,772.7 C465.7,777.4 467.8,780.6 467.4,786.2 C467.0,791.8 464.0,797.0 461.3,803.3 C458.6,809.6 454.7,814.6 452.7,820.4 C450.7,826.2 450.3,828.7 450.3,835.0 C450.3,841.3 448.9,854.1 452.7,854.6 C456.5,855.1 465.1,843.0 471.1,837.5 C477.2,832.0 481.2,827.7 485.7,824.8 C490.2,821.9 489.7,822.3 495.5,821.6 C501.3,820.9 510.3,822.5 517.5,820.9 C524.7,819.3 526.9,816.5 534.6,813.1 C542.3,809.7 551.1,805.6 559.6,802.1 C568.1,798.6 577.2,795.5 581.1,794.0"/>
<path d="M581.1,794.0 C580.5,791.7 578.6,787.2 577.9,781.3 C577.2,775.4 577.6,767.5 577.1,761.7 C576.6,755.9 573.9,754.7 575.4,749.5 C576.9,744.3 582.9,742.3 585.2,733.6 C587.5,724.9 583.0,708.9 587.7,701.9 C592.4,694.9 601.7,697.2 610.9,695.3 C620.1,693.4 631.8,694.6 637.8,691.6 C643.8,688.6 640.3,684.4 643.9,678.7 C647.5,673.0 652.8,664.9 657.3,660.3 C661.8,655.7 664.2,655.6 668.4,653.5 C672.6,651.4 676.0,649.3 680.0,648.8 C684.0,648.2 686.0,649.3 690.0,650.5 C694.0,651.7 698.3,654.9 702.0,655.6 C705.7,656.3 706.7,655.9 710.0,654.5 C713.3,653.1 717.1,651.2 719.8,648.0 C722.5,644.8 725.5,640.8 724.6,637.0 C723.7,633.2 719.8,630.9 714.9,627.3 C710.0,623.7 703.0,619.8 697.8,617.5 C692.6,615.2 689.1,618.1 686.8,615.0 C684.5,611.9 684.8,604.9 685.0,600.4 C685.2,595.9 684.8,594.4 688.0,590.6 C691.2,586.8 698.6,584.1 702.6,579.6 C706.6,575.1 706.2,570.9 710.0,566.2 C713.8,561.5 718.5,557.6 723.4,554.0 C728.3,550.4 732.4,549.2 736.9,546.6 C741.4,544.0 745.8,541.2 747.8,540.0"/>
<path d="M581.1,794.0 C582.5,795.5 586.6,797.3 588.9,802.1 C591.2,806.9 592.0,813.0 593.8,820.4 C595.6,827.8 597.5,832.1 598.7,842.4 C599.9,852.7 600.4,868.8 600.6,876.6 C600.8,884.4 600.1,883.5 600.0,885.0"/>
<path d="M691.6,436.7 C692.5,438.5 695.4,441.0 696.5,446.4 C697.6,451.8 696.2,459.3 697.8,466.0 C699.4,472.7 702.0,476.4 705.1,483.1 C708.2,489.8 711.3,497.8 714.9,502.6 C718.5,507.4 720.6,508.1 724.6,509.5 C728.6,510.9 732.6,504.4 736.9,510.0 C741.2,515.6 745.8,534.5 747.8,540.0"/>
<path d="M747.8,540.0 C750.3,540.7 756.6,543.7 761.3,543.7 C766.0,543.7 769.0,538.8 773.5,540.0 C778.0,541.2 780.8,545.1 785.7,550.3 C790.6,555.5 796.1,562.8 800.4,568.6 C804.7,574.4 806.2,579.3 808.9,582.1 C811.6,584.9 812.2,584.0 815.1,583.8 C818.0,583.6 819.0,581.4 824.8,580.8 C830.6,580.2 839.7,578.2 846.8,580.4 C853.9,582.6 858.7,588.0 863.4,592.7 C868.1,597.4 870.6,601.8 872.7,606.2 C874.8,610.6 874.5,612.9 874.8,616.5 C875.1,620.1 874.6,623.4 874.2,625.8 C873.8,628.2 872.8,628.8 872.5,629.5"/>
<polyline points="872.5,629.5 854.1,639.3 867.0,646.0"/>
</g>
<g stroke="#808080" stroke-opacity="0.15" stroke-width="0.69" stroke-dasharray="2.57 1.11" fill="none">
<line x1="143.4" y1="45.5" x2="143.4" y2="1029.4"/>
<line x1="337.3999999999993" y1="45.5" x2="337.3999999999993" y2="1029.4"/>
<line x1="531.4000000000003" y1="45.5" x2="531.4000000000003" y2="1029.4"/>
<line x1="725.3999999999996" y1="45.5" x2="725.3999999999996" y2="1029.4"/>
<line x1="919.4000000000007" y1="45.5" x2="919.4000000000007" y2="1029.4"/>
<line x1="85.5" y1="910.5" x2="1015.6" y2="910.5"/>
<line x1="85.5" y1="761.3" x2="1015.6" y2="761.3"/>
<line x1="85.5" y1="612.1" x2="1015.6" y2="612.1"/>
<line x1="85.5" y1="462.9" x2="1015.6" y2="462.9"/>
<line x1="85.5" y1="313.7" x2="1015.6" y2="313.7"/>
<line x1="85.5" y1="164.5" x2="1015.6" y2="164.5"/>
</g>
</g>
<text x="303.6" y="114.9" font-size="19.3" font-weight="bold" textLength="66.6" lengthAdjust="spacingAndGlyphs">16 km</text>
<text x="423.4" y="309.5" font-size="19.3" font-weight="bold" textLength="53" lengthAdjust="spacingAndGlyphs">8 km</text>
<rect x="85.5" y="45.5" width="930.1" height="983.9000000000001" fill="none" stroke="#000" stroke-width="1.1"/>
<text x="355.5" y="37.8" font-size="37.5" textLength="197.5" lengthAdjust="spacingAndGlyphs">21.10.2025</text>
<text x="565.5" y="37.8" font-size="37.5" textLength="98.5" lengthAdjust="spacingAndGlyphs">15:33</text>
<text x="677" y="37.8" font-size="37.5" textLength="68.5" lengthAdjust="spacingAndGlyphs">UTC</text>
<text x="143.4" y="1050.9" font-size="18.7" text-anchor="middle">6°E</text>
<text x="337.3999999999993" y="1050.9" font-size="18.7" text-anchor="middle">6.1°E</text>
<text x="531.4000000000003" y="1050.9" font-size="18.7" text-anchor="middle">6.2°E</text>
<text x="725.3999999999996" y="1050.9" font-size="18.7" text-anchor="middle">6.3°E</text>
<text x="919.4000000000007" y="1050.9" font-size="18.7" text-anchor="middle">6.4°E</text>
<text x="77" y="916.3" font-size="18.7" text-anchor="end">49.5°N</text>
<text x="77" y="767.1" font-size="18.7" text-anchor="end">49.55°N</text>
<text x="77" y="617.9" font-size="18.7" text-anchor="end">49.6°N</text>
<text x="77" y="468.7" font-size="18.7" text-anchor="end">49.65°N</text>
<text x="77" y="319.5" font-size="18.7" text-anchor="end">49.7°N</text>
<text x="77" y="170.3" font-size="18.7" text-anchor="end">49.75°N</text>
<rect x="1073.5" y="955.23" width="45.0" height="32.67" fill="#6478aa"/>
<rect x="1073.5" y="923.05" width="45.0" height="32.67" fill="#5468a2"/>
<rect x="1073.5" y="890.88" width="45.0" height="32.67" fill="#4460a4"/>
<rect x="1073.5" y="858.70" width="45.0" height="32.67" fill="#4c80b8"/>
<rect x="1073.5" y="826.52" width="45.0" height="32.67" fill="#58a0cc"/>
<rect x="1073.5" y="794.35" width="45.0" height="32.67" fill="#68c0e0"/>
<rect x="1073.5" y="762.17" width="45.0" height="32.67" fill="#60d8c4"/>
<rect x="1073.5" y="730.00" width="45.0" height="32.67" fill="#40d870"/>
<rect x="1073.5" y="697.83" width="45.0" height="32.67" fill="#10cc18"/>
<rect x="1073.5" y="665.65" width="45.0" height="32.67" fill="#10b418"/>
<rect x="1073.5" y="633.48" width="45.0" height="32.67" fill="#10a014"/>
<rect x="1073.5" y="601.30" width="45.0" height="32.67" fill="#0c8c10"/>
<rect x="1073.5" y="569.12" width="45.0" height="32.67" fill="#0a7410"/>
<rect x="1073.5" y="536.95" width="45.0" height="32.67" fill="#065c0c"/>
<rect x="1073.5" y="504.78" width="45.0" height="32.67" fill="#447c0c"/>
<rect x="1073.5" y="472.60" width="45.0" height="32.67" fill="#b0b010"/>
<rect x="1073.5" y="440.43" width="45.0" height="32.67" fill="#ffd800"/>
<rect x="1073.5" y="408.25" width="45.0" height="32.67" fill="#ffb800"/>
<rect x="1073.5" y="376.08" width="45.0" height="32.67" fill="#ff9c00"/>
<rect x="1073.5" y="343.90" width="45.0" height="32.67" fill="#ff8000"/>
<rect x="1073.5" y="311.73" width="45.0" height="32.67" fill="#e40000"/>
<rect x="1073.5" y="279.55" width="45.0" height="32.67" fill="#c00000"/>
<rect x="1073.5" y="247.38" width="45.0" height="32.67" fill="#9c0000"/>
<rect x="1073.5" y="215.20" width="45.0" height="32.67" fill="#7a0000"/>
<rect x="1073.5" y="183.03" width="45.0" height="32.67" fill="#ffdcff"/>
<rect x="1073.5" y="150.85" width="45.0" height="32.67" fill="#ffb0ff"/>
<rect x="1073.5" y="118.68" width="45.0" height="32.67" fill="#ff66ff"/>
<rect x="1073.5" y="86.50" width="45.0" height="32.67" fill="#ee30ee"/>
<rect x="1073.5" y="86.5" width="45.0" height="900.9" fill="none" stroke="#000" stroke-width="1.1"/>
<line x1="1118.5" y1="987.4" x2="1123.5" y2="987.4" stroke="#000" stroke-width="1.1"/>
<text x="1129.3" y="998.8" font-size="30.7" >0</text>
<line x1="1118.5" y1="858.7" x2="1123.5" y2="858.7" stroke="#000" stroke-width="1.1"/>
<text x="1129.3" y="870.1" font-size="30.7" textLength="33.4" lengthAdjust="spacingAndGlyphs">10</text>
<line x1="1118.5" y1="730.0" x2="1123.5" y2="730.0" stroke="#000" stroke-width="1.1"/>
<text x="1129.3" y="741.4" font-size="30.7" textLength="33.4" lengthAdjust="spacingAndGlyphs">20</text>
<line x1="1118.5" y1="601.3" x2="1123.5" y2="601.3" stroke="#000" stroke-width="1.1"/>
<text x="1129.3" y="612.7" font-size="30.7" textLength="33.4" lengthAdjust="spacingAndGlyphs">30</text>
<line x1="1118.5" y1="472.6" x2="1123.5" y2="472.6" stroke="#000" stroke-width="1.1"/>
<text x="1129.3" y="484.0" font-size="30.7" textLength="33.4" lengthAdjust="spacingAndGlyphs">40</text>
<line x1="1118.5" y1="343.9" x2="1123.5" y2="343.9" stroke="#000" stroke-width="1.1"/>
<text x="1129.3" y="355.3" font-size="30.7" textLength="33.4" lengthAdjust="spacingAndGlyphs">50</text>
<line x1="1118.5" y1="215.2" x2="1123.5" y2="215.2" stroke="#000" stroke-width="1.1"/>
<text x="1129.3" y="226.6" font-size="30.7" textLength="33.4" lengthAdjust="spacingAndGlyphs">60</text>
<line x1="1118.5" y1="86.5" x2="1123.5" y2="86.5" stroke="#000" stroke-width="1.1"/>
<text x="1129.3" y="97.9" font-size="30.7" textLength="33.4" lengthAdjust="spacingAndGlyphs">70</text>
<text transform="translate(1192,539.4) rotate(-90)" font-size="30.3" text-anchor="middle" textLength="52.6" lengthAdjust="spacingAndGlyphs">dBZ</text>
</svg></body></html>
